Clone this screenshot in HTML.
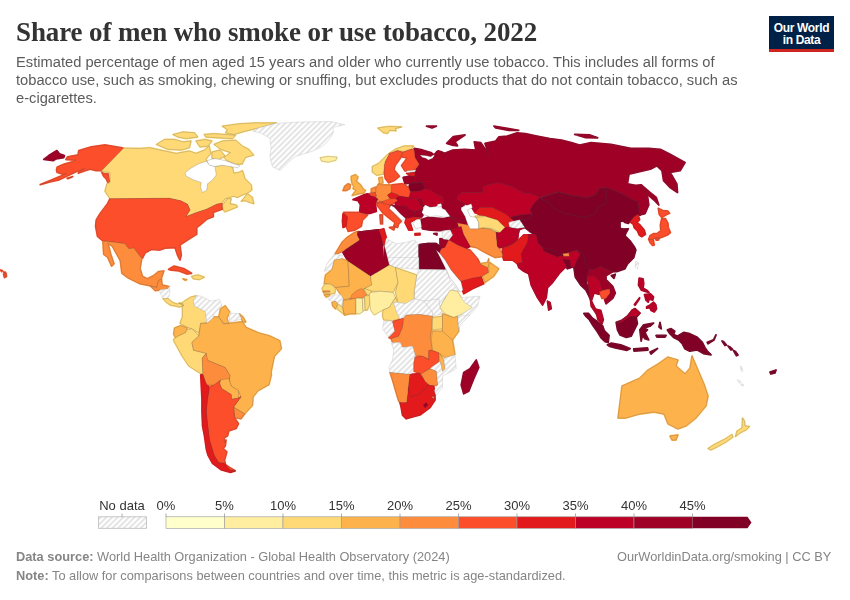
<!DOCTYPE html>
<html><head><meta charset="utf-8">
<style>
html,body{margin:0;padding:0;background:#fff;}
body{width:850px;height:600px;position:relative;overflow:hidden;font-family:"Liberation Sans",sans-serif;}
.t{position:absolute;white-space:nowrap;will-change:transform;}
#title{left:16px;top:16.6px;font-family:"Liberation Serif",serif;font-weight:bold;font-size:27px;color:#333;letter-spacing:-0.12px;transform:scaleY(1.05);transform-origin:0 24px;}
.sub{left:16px;font-size:14.7px;color:#5b5b5b;}
.foot{font-size:12.8px;color:#858585;}
#logo{position:absolute;left:769px;top:16px;width:65px;height:36px;background:#002147;border-bottom:3px solid #ce261e;box-sizing:border-box;}
#logo div{position:absolute;left:0;width:65px;text-align:center;color:#fff;font-weight:bold;font-size:12px;letter-spacing:-0.35px;}
svg{position:absolute;left:0;top:0;will-change:transform;}
</style></head><body>
<svg width="850" height="600" viewBox="0 0 850 600">
<defs>
<pattern id="hatch" patternUnits="userSpaceOnUse" width="4" height="4" patternTransform="rotate(45)">
<rect width="4" height="4" fill="#fff"/><rect x="0" y="0" width="1.8" height="4" fill="#e2e2e2"/>
</pattern>
</defs>
<g id="map">
<g><polygon points="414.2,148.3 422.5,150 430.8,152.5 434.2,155 436.7,151.7 438.3,150.8 441.3,151.8 444.6,153.4 452.8,150.1 464.4,149.3 475.9,150.1 474.3,141.9 480.8,142.7 487.4,152.6 489.1,155.1 485,143.5 495.7,141.1 499,136.9 507.2,136.1 517.1,132.8 525.3,133.7 536.9,136.1 550,138.6 561.5,140.2 571.4,142.7 579.6,145.2 591.1,142.7 610.9,144.4 630.7,148.5 648.8,148.5 660.3,149.3 670.2,154.2 685,162.5 680.1,170.7 670.2,172.4 676.8,183.9 677.5,192.5 670,187.5 663.6,180.6 662,170.7 657,165.8 650.4,169.1 629,174 627.4,183.9 635.6,185.5 641.25,185 647.5,196.25 648.75,205 645,213.75 640,215 638.75,208.75 637.5,201.25 632.5,200 621.25,193.75 610,188.75 606,187.5 600,187.5 595,195 587.5,197.5 570,195 558.75,191.25 542.5,196.25 540,197.5 531.25,193.75 523.75,193.1 511.25,186.25 497.5,182.5 483.75,186.25 482.5,192.5 461.25,192.5 457.5,196.25 457.5,200 460,201.25 465,203.75 461.25,207.5 461.25,210 465,216.25 467.5,221.25 461.25,220 450,216.25 446.25,212.5 441.25,205 443.75,200 442.5,196.25 430,192.5 425,188.75 422.5,182.5 415,177.5 415,171.25 416,170 419.2,164.2 415,157.5 414.2,150.8" fill="#9f0026" stroke="#9f0026" stroke-width="1.8" stroke-linejoin="round"/>
<polygon points="123.75,148.1 105,145 91.25,146.9 78.75,150.6 78.1,155 67.5,156.9 66,159.5 75.5,160 71.3,162.1 64.2,164.2 57.2,167.1 56.5,169.9 57.2,172.4 62.8,174.1 66.3,173.4 60.7,176.2 50.1,180.5 40.2,184.7 50.1,181.9 59.3,179.8 69.9,174.8 75.5,172 84.7,168.5 79.8,171.3 78.3,173.1 85.4,170.6 90.3,169.2 96,170.6 101.25,170.6 103.75,173.75 108.1,173.75 110,181.25 108.1,183.1 106.25,178.75 103.75,176.25 101.25,171.25" fill="#fc4e2a" stroke="#fc4e2a" stroke-width="1.8" stroke-linejoin="round"/>
<polygon points="67.1,178.3 72.7,176.6 67.8,178.7" fill="#fc4e2a" stroke="#fc4e2a" stroke-width="1.8" stroke-linejoin="round"/>
<polygon points="43.75,159.4 48.75,155.6 56.9,150.6 59.4,153.75 64.4,155.6 63.75,157.5 56.25,158.75 53.1,160.6" fill="#9f0026" stroke="#9f0026" stroke-width="1.8" stroke-linejoin="round"/>
<polygon points="123.75,148.1 140,148.5 149.9,147.7 164.7,151 176.2,153.4 189.4,151 196,153.4 204.3,150.1 209.2,146 210.8,153.4 205.9,159.2 207.5,164.1 214.1,162.5 216.25,166.25 220,165.6 227.5,165 232.5,167.5 233.75,173.1 238.75,172.5 242.5,170.6 245,178.75 251.25,185 251.9,190 247.5,193.1 242.5,195 237.5,197.5 233.75,196.25 225,198.75 221.7,203.3 216.7,204.2 206.7,209.2 196.7,212.5 185.8,216.7 190,210 187.5,204.2 180.8,200.8 169.2,198.3 110,198.75 105,191.25 106.9,183.75 110,182.5 110,172.5 101.25,171.25" fill="#fed976" stroke="#fed976" stroke-width="1.8" stroke-linejoin="round"/>
<polygon points="185,173.1 190,168.75 198.75,163.75 206.25,161.25 210,165 215,166.25 216.25,175 212.5,180 207.5,183.75 206.9,190 202.5,192.5 200.6,187.5 201.25,182.5 193.75,180 186.25,176.25" fill="#fff"/>
<polygon points="222.5,205 227.5,198.75 231.25,198.75 230,203.75 236.25,205 237.5,206.9 225,211.9 223.1,210" fill="#fed976" stroke="#fed976" stroke-width="1.8" stroke-linejoin="round"/>
<polygon points="241.25,201.25 247.5,193.75 252.5,197.5 253.75,203.75 250,202.5 245,200.6" fill="#fed976" stroke="#fed976" stroke-width="1.8" stroke-linejoin="round"/>
<polygon points="214.1,144.4 222.4,141 235.6,140.2 242.1,146 248.7,149.3 253.7,155.1 245.4,157.5 242.1,164.1 235.6,164.1 227.3,160.8 224,157.5 230.6,152.6 220.7,149.3" fill="#fed976" stroke="#fed976" stroke-width="1.8" stroke-linejoin="round"/>
<polygon points="156.5,144.4 164.7,139.4 174.6,139.4 182.8,141.9 191,141 189.4,147.7 181.2,150.1 168,149.3 158.1,145.2" fill="#fed976" stroke="#fed976" stroke-width="1.8" stroke-linejoin="round"/>
<polygon points="222.4,126.2 238.8,123.8 255.3,122.9 276.7,122.9 258.6,127.9 245.4,131.2 233.9,134.5 225.7,132.8 227.3,129.5" fill="#fed976" stroke="#fed976" stroke-width="1.8" stroke-linejoin="round"/>
<polygon points="173,134.5 182.8,132 194.4,132.8 197.7,137 186.1,138.6 177.9,137" fill="#fed976" stroke="#fed976" stroke-width="1.8" stroke-linejoin="round"/>
<polygon points="204.3,134.5 214.1,133.7 235.6,135.3 232.3,138.6 217.4,137.8 205.9,137" fill="#fed976" stroke="#fed976" stroke-width="1.8" stroke-linejoin="round"/>
<polygon points="196,141 205,139.5 212,141 208,146 200,147" fill="#fed976" stroke="#fed976" stroke-width="1.8" stroke-linejoin="round"/>
<polygon points="212,152 220,150 225,156 218,160 212,158" fill="#fed976" stroke="#fed976" stroke-width="1.8" stroke-linejoin="round"/>
<polygon points="110,198.75 169.2,198.3 180.8,200.8 187.5,204.2 190,210 185.8,216.7 196.7,212.5 206.7,209.2 216.7,204.2 221.7,203.3 222.1,209.2 213.3,212.5 213.3,216.7 206.7,219.2 200,225 196.7,227.5 196.7,234.2 187.5,240 180,245 181.25,255 180,260 177.5,255 175,247.5 165,248.1 160,250 151.25,249.4 145,253.1 142.5,258.1 140,256.25 133.75,248.1 128.75,248.75 125,243.75 112.5,241.9 102.5,240.6 97.5,236.25 95.6,226.25 96.25,220 100,213.75 107.5,203.75" fill="#fc4e2a" stroke="#fc4e2a" stroke-width="1.8" stroke-linejoin="round"/>
<polygon points="102.9,241.6 112.5,241.9 125,243.75 128.75,248.75 133.75,248.1 140,256.25 141.7,259 140.1,268.5 142.5,276.4 147.3,278.8 153.6,275.6 158.3,271.7 163.9,270.9 161.5,278 158.3,281.2 156.8,287.5 150.4,285.9 139.3,283.5 128.3,278 121.9,273.3 120.3,260.6 112.4,246.3 108,243.5 111,255 114,263.8 111.6,266.1 107.7,257.4 103.7,254.3" fill="#fd8d3c" stroke="#fd8d3c" stroke-width="1.8" stroke-linejoin="round"/>
<polygon points="150.4,285.9 156.8,287.5 158.3,281.2 161.5,279 162,285 169.4,286.7 167.8,289 160,290 155.2,290.7" fill="#fd8d3c" stroke="#fd8d3c" stroke-width="1.8" stroke-linejoin="round"/>
<polygon points="160,290 167.8,289 169.4,286.7 170,293 168,298.6 163,298.6 159.9,292.3" fill="#fff" stroke="#fff" stroke-width="1.1"/>
<polygon points="163,298.6 168,298.6 172,302 177,304 182,303 184,306 180,307 175,306 170,305 166,302" fill="#fed976" stroke="#fed976" stroke-width="1.8" stroke-linejoin="round"/>
<polygon points="168.6,269.3 174.2,266.1 183.7,268.5 191.6,273.3 186.8,274 178.9,270.9 171,270.1" fill="#fc4e2a" stroke="#fc4e2a" stroke-width="1.8" stroke-linejoin="round"/>
<polygon points="191.6,276.4 197.9,274.8 204.3,277.2 199.5,279.6 193.2,278.8" fill="#fed976" stroke="#fed976" stroke-width="1.8" stroke-linejoin="round"/>
<polygon points="182.9,278.8 186.8,279.6 185.3,280.4" fill="#feb24c" stroke="#feb24c" stroke-width="1.8" stroke-linejoin="round"/>
<polygon points="196.7,295.5 193.5,300.3 194.3,305.8 205.4,311.4 207,322.5 200.6,323.3 199,332.8 191.9,328.8 187.2,327.2 180,323.3 182.4,316.9 182.4,305.8 179.3,302.7 184,306 182,303 186,300 191,297" fill="#fed976" stroke="#fed976" stroke-width="1.8" stroke-linejoin="round"/>
<polygon points="196.7,295.5 201.4,296.3 210.9,301.1 219.6,299.5 222,305.8 214.1,313.8 212.5,320.9 207,323.3 205.4,311.4 194.3,305.8 193.5,300.3" fill="#fff" stroke="#fff" stroke-width="1.1"/>
<polygon points="174.5,328 180.8,325.6 187.2,328 185.6,332.8 178.5,335.9 176.1,339.1 173.7,334.3" fill="#feb24c" stroke="#feb24c" stroke-width="1.8" stroke-linejoin="round"/>
<polygon points="173.7,339.1 178.5,335.9 185.6,332.8 187.2,329.6 191.9,328.8 199,335.9 191.9,342.3 193.5,350.2 206.2,353.3 202.2,358.1 203,373.9 199.8,373.1 188.8,366 182.4,356.5 173.7,340.7" fill="#fed976" stroke="#fed976" stroke-width="1.8" stroke-linejoin="round"/>
<polygon points="200.6,323.3 207,323.3 214.1,316.9 218.8,316.9 223.6,324 242.6,321.7 245.8,327.2 258.4,332.8 269.5,335.9 279.8,340.7 281.4,348.6 274.3,356.5 271.1,372.3 271.4,375 268.9,384.7 258,390.8 253.1,396.9 252.5,405.4 244.6,413.9 233.7,407.2 241,396.9 238.5,390.8 231.2,386 228.8,378.6 229.1,381.8 229.9,375.5 225.2,367.6 206.2,359.7 206.2,353.3 193.5,350.2 191.9,342.3 199,335.9" fill="#feb24c" stroke="#feb24c" stroke-width="1.8" stroke-linejoin="round"/>
<polygon points="220.4,309 225.2,305.8 229.9,312.2 226.8,318.5 229.1,323.3 223.6,323.3 218.8,316.9" fill="#feb24c" stroke="#feb24c" stroke-width="1.8" stroke-linejoin="round"/>
<polygon points="229.9,313 239.4,313.8 242.6,318.5 234.7,320.9 229.1,321.7" fill="#fff" stroke="#fff" stroke-width="1.1"/>
<polygon points="239.4,313.8 243,317 245.8,322 242.6,321.7" fill="#feb24c" stroke="#feb24c" stroke-width="1.8" stroke-linejoin="round"/>
<polygon points="202.2,358.1 206.2,353.3 207.8,360.5 225.2,367.6 229.9,375.5 229.1,381.8 220.4,380.3 214.1,385 206.2,385 203,375.5" fill="#fd8d3c" stroke="#fd8d3c" stroke-width="1.8" stroke-linejoin="round"/>
<polygon points="220.3,379.9 228.8,378.6 231.2,386 238.5,390.8 238.5,398.1 231.2,399.3 231.2,394.5 221.5,388.4 219.7,383.5" fill="#feb24c" stroke="#feb24c" stroke-width="1.8" stroke-linejoin="round"/>
<polygon points="233.7,407.2 244.6,413.9 241,418.8 234.9,417.6" fill="#fd8d3c" stroke="#fd8d3c" stroke-width="1.8" stroke-linejoin="round"/>
<polygon points="209.3,387.2 214.1,385 220.4,380.3 219.7,383.5 221.5,388.4 231.2,394.5 231.8,399.3 238.5,398.1 241,396.9 233.7,406.6 234.3,417.6 238.5,423.7 236.1,428.5 228.8,431 227.6,435.8 223.9,438.3 225.1,443.1 226,440 225.3,446 223,448.3 226.8,452 224.5,460.3 225.3,463.3 218.5,462.5 214,455 209.5,440 207.5,423.7 206.3,411.5 207.5,399.3" fill="#fc4e2a" stroke="#fc4e2a" stroke-width="1.8" stroke-linejoin="round"/>
<polygon points="225.3,464.8 235,470.8 229,470" fill="#fc4e2a" stroke="#fc4e2a" stroke-width="1.8" stroke-linejoin="round"/>
<polygon points="200.8,375 203.2,375 205.7,382.3 209.3,388.4 207.5,399.3 206.3,411.5 207.5,423.7 209.5,440 214,455 218.5,462.5 224.5,464 230.5,470 235,470.8 230.5,472.3 221.5,470 212.5,463.3 208,455 206.5,449.8 204.5,435.8 202.6,426.1 202,411.5 202,399.3 201.4,387.2" fill="#e31a1c" stroke="#e31a1c" stroke-width="1.8" stroke-linejoin="round"/>
<polygon points="252.9,131.2 259.4,127.9 276.2,123.4 298.2,122.1 330.6,121.5 344.8,124.7 333.2,127.3 333.2,133.1 329.3,139.6 322.8,146.1 312.5,151.2 295.6,156.4 289.2,161.6 280.1,170.6 272.4,166.8 269.8,156.4 271.1,148.6 269.8,138.3 260.7,133.1" fill="#fff" stroke="#fff" stroke-width="1.1"/>
<polygon points="320.2,157.7 328,156.4 337.1,157.1 335.8,160.3 328,162.2 321.5,161" fill="#ffeda0" stroke="#ffeda0" stroke-width="1.8" stroke-linejoin="round"/>
<polygon points="377.8,128.1 384.3,127 389.7,126.5 401.6,127 395.1,128.7 396.2,130.8 389.7,130.3 387.5,133.5 383.2,132.5" fill="#fed976" stroke="#fed976" stroke-width="1.8" stroke-linejoin="round"/>
<polygon points="372.3,166.6 378.8,163.3 387.5,154.7 395.1,149.3 403.8,146 413.5,146 411.3,149.3 403.8,151.4 397.3,150.3 389.7,153.6 385.3,161.2 384.3,168.8 383.2,174.2 376.7,175.3 372.3,172" fill="#fed976" stroke="#fed976" stroke-width="1.8" stroke-linejoin="round"/>
<polygon points="384.3,164.4 389.7,153.6 397.3,150.9 402.7,152.5 400.5,157.9 395.1,165.5 394,169.8 399.4,176.3 394,180.7 388.6,182.8 385.3,178.5 384.3,172" fill="#fc4e2a" stroke="#fc4e2a" stroke-width="1.8" stroke-linejoin="round"/>
<polygon points="402.7,152.5 410.3,149.3 413.5,150 414.2,150.8 415,157.5 419.2,164.2 415,168.3 413.5,170.9 404.8,170.9 401.6,165.5 404.8,161.2 407,157.9 401.6,156.8" fill="#fc4e2a" stroke="#fc4e2a" stroke-width="1.8" stroke-linejoin="round"/>
<polygon points="406.7,173.3 414.2,172.5 415,176.7 410,175.8" fill="#e31a1c" stroke="#e31a1c" stroke-width="1.8" stroke-linejoin="round"/>
<polygon points="403.1,177.5 410,176.25 415,176.25 422.5,182.5 412.5,182.5 405,183.75" fill="#9f0026" stroke="#9f0026" stroke-width="1.8" stroke-linejoin="round"/>
<polygon points="410,183.75 422.5,182.5 425,188.75 420,191.25 410,191.25 408.75,187.5" fill="#800026" stroke="#800026" stroke-width="1.8" stroke-linejoin="round"/>
<polygon points="410,192.5 420,191.25 425,188.75 430,190 442.5,197.5 443.75,203.75 435,207.5 427.5,206.25 422.5,203.75 420,200 410,197.5 408.75,197.5" fill="#bd0026" stroke="#bd0026" stroke-width="1.8" stroke-linejoin="round"/>
<polygon points="391.25,185 402.5,183.75 408.75,187.5 410,192.5 408.75,197.5 400,196.25 391.25,192.5" fill="#fc4e2a" stroke="#fc4e2a" stroke-width="1.8" stroke-linejoin="round"/>
<polygon points="378.75,183.75 382.5,185 391.25,185 391.25,192.5 387.5,195 390,198.75 387.5,201.9 380,201.25 376.25,197.5 375,190" fill="#fd8d3c" stroke="#fd8d3c" stroke-width="1.8" stroke-linejoin="round"/>
<polygon points="378.8,178 382.2,177.2 383,183 379.7,183.8" fill="#feb24c" stroke="#feb24c" stroke-width="1.8" stroke-linejoin="round"/>
<polygon points="371.3,188.8 375.5,187.2 376,192.2 371.3,193" fill="#fd8d3c" stroke="#fd8d3c" stroke-width="1.8" stroke-linejoin="round"/>
<polygon points="368.8,193.8 373,193 375,192 376.5,196 371.3,196.3" fill="#fc4e2a" stroke="#fc4e2a" stroke-width="1.8" stroke-linejoin="round"/>
<polygon points="351.3,176.3 355.5,174.7 358,177.2 356.3,181.3 360.5,184.7 363,188.8 365.5,190.5 363.8,193 358.8,193.8 352.2,195.5 353.8,193 356.3,190.5 353,188.8 353.8,186.3 352.2,183.8 351.3,179.7" fill="#feb24c" stroke="#feb24c" stroke-width="1.8" stroke-linejoin="round"/>
<polygon points="343,190.5 344.7,186.3 348,183.8 350.5,184.7 349.7,188.8 346.3,190.5" fill="#fd8d3c" stroke="#fd8d3c" stroke-width="1.8" stroke-linejoin="round"/>
<polygon points="353,199.7 358.8,197.2 364.7,194.7 367.2,193.8 371.3,196.3 377.2,198.8 375.5,204.7 376.3,211.3 371.3,213 366.3,213.8 359.7,212.2 360.5,204.7 358,200.5" fill="#bd0026" stroke="#bd0026" stroke-width="1.8" stroke-linejoin="round"/>
<polygon points="343.75,212.5 358.75,212.5 367.5,215 362.5,220 361.25,226.25 355,230 348.1,231.25 346.25,226.25 347.5,216.9" fill="#fc4e2a" stroke="#fc4e2a" stroke-width="1.8" stroke-linejoin="round"/>
<polygon points="343.1,213.75 347.5,216.9 346.25,226.25 343.1,227.5 342.5,221.25" fill="#e31a1c" stroke="#e31a1c" stroke-width="1.8" stroke-linejoin="round"/>
<polygon points="387.5,195 391.25,192.5 398.75,195 396.25,198.75 390,198.75" fill="#e31a1c" stroke="#e31a1c" stroke-width="1.8" stroke-linejoin="round"/>
<polygon points="382.5,201.25 390,198.75 396.25,198.75 398,201 395,202.5 390,205 383,203.5" fill="#fc4e2a" stroke="#fc4e2a" stroke-width="1.8" stroke-linejoin="round"/>
<polygon points="376.25,202.5 382.5,201.9 383,203.5 381.25,205 377.5,204" fill="#fc4e2a" stroke="#fc4e2a" stroke-width="1.8" stroke-linejoin="round"/>
<polygon points="396.25,198.75 400,196.25 408.75,197.5 410,197.5 407.5,201.25 407.5,206.25 396.25,206.25 395,202.5 398,201" fill="#bd0026" stroke="#bd0026" stroke-width="1.8" stroke-linejoin="round"/>
<polygon points="407.5,201.25 410,197.5 420,200 422.5,208.75 415,211.9 407.5,208.75" fill="#bd0026" stroke="#bd0026" stroke-width="1.8" stroke-linejoin="round"/>
<polygon points="390,205 396.25,206.25 407.5,206.25 407.5,208.75 415,211.9 413.75,216.9 410,218.75 402.5,217.5 393.75,211.25" fill="#9f0026" stroke="#9f0026" stroke-width="1.8" stroke-linejoin="round"/>
<polygon points="415,211.9 422.5,208.75 422.5,210 423,215 421.25,217.5 413.75,216.9" fill="#9f0026" stroke="#9f0026" stroke-width="1.8" stroke-linejoin="round"/>
<polygon points="406.25,218.75 413.75,216.9 421.25,217.5 415,219.4 410,222.5 412.5,230 408.75,230 405,222.5" fill="#e31a1c" stroke="#e31a1c" stroke-width="1.8" stroke-linejoin="round"/>
<polygon points="415,233.75 420,233.5 420,234.8 415,235" fill="#e31a1c" stroke="#e31a1c" stroke-width="1.8" stroke-linejoin="round"/>
<polygon points="376.25,203.75 381.25,202.5 383,203.5 390,205 388.75,208.75 395,215 401.25,221.25 398.75,223.75 397.5,227.5 393.75,226.25 395,222.5 390,218.75 382.5,212.5 378.75,207.5" fill="#fc4e2a" stroke="#fc4e2a" stroke-width="1.8" stroke-linejoin="round"/>
<polygon points="389.4,227.5 395,226.9 393.75,230" fill="#fc4e2a" stroke="#fc4e2a" stroke-width="1.8" stroke-linejoin="round"/>
<polygon points="380,215 382.5,215 382.5,223.75 380.6,223.75" fill="#fc4e2a" stroke="#fc4e2a" stroke-width="1.8" stroke-linejoin="round"/>
<polygon points="358.75,231.25 357.5,235 360,240 345,250 340,252.5 334.5,255 342,242.5 347,237.5 354.5,232.5" fill="#fd8d3c" stroke="#fd8d3c" stroke-width="1.8" stroke-linejoin="round"/>
<polygon points="357.5,232.5 378.75,230 381.25,237.5 383.1,246.25 383.75,257.5 390,265 380,275 370,270 345,250 360,240 357.5,235" fill="#9f0026" stroke="#9f0026" stroke-width="1.8" stroke-linejoin="round"/>
<polygon points="378.75,230 383.75,228.75 386.25,237.5 385,245 383.1,246.25 381.25,237.5" fill="#e31a1c" stroke="#e31a1c" stroke-width="1.8" stroke-linejoin="round"/>
<polygon points="386.25,238.75 396.25,243.75 405,242.5 415,240 418.75,245 418.75,265 383.75,265 383.75,257.5 383.1,246.25 385,245" fill="#fff" stroke="#fff" stroke-width="1.1"/>
<polygon points="418.75,245 427.5,243.75 436.25,243.75 440,248.75 438.75,257.5 441.25,265 418.75,265" fill="#800026" stroke="#800026" stroke-width="1.8" stroke-linejoin="round"/>
<polygon points="450,216.25 461.25,220 467.5,221.25 468.75,225 461.25,226.25 457.5,222.5" fill="#9f0026" stroke="#9f0026" stroke-width="1.8" stroke-linejoin="round"/>
<polygon points="420,220 427.5,217.5 442.5,218.75 450,216.9 457.5,222.5 461.25,226.25 450,230 438.75,230.6 430,230 422.5,228.75" fill="#9f0026" stroke="#9f0026" stroke-width="1.8" stroke-linejoin="round"/>
<polygon points="457.5,223.1 468.75,225 478.75,227.5 490,228.75 496.25,232.5 497.5,246.25 502.5,253.75 503.75,256.25 495,257.5 485,252.5 476.25,247.5 470,246.25 463.75,235 458.75,227.5" fill="#fd8d3c" stroke="#fd8d3c" stroke-width="1.8" stroke-linejoin="round"/>
<polygon points="475,216.25 485,215 492.5,222.5 506.25,226.25 500,233.75 490,228.75 478.75,227.5 477.5,222.5" fill="#fed976" stroke="#fed976" stroke-width="1.8" stroke-linejoin="round"/>
<polygon points="480,208.1 488.75,208.75 500,213.75 507.5,217.5 515,220 510,223.75 506.25,226.25 492.5,222.5 485,215" fill="#e31a1c" stroke="#e31a1c" stroke-width="1.8" stroke-linejoin="round"/>
<polygon points="500,233.75 506.25,226.25 515,228.75 520,227.5 517.5,235 515,242.5 507.5,246.25 500,247.5 497.5,246.25 496.25,232.5" fill="#bd0026" stroke="#bd0026" stroke-width="1.8" stroke-linejoin="round"/>
<polygon points="450,230 461.25,226.25 463.75,235 470,246.25 466.25,248.75 457.5,245 448.75,240 452.5,235" fill="#bd0026" stroke="#bd0026" stroke-width="1.8" stroke-linejoin="round"/>
<polygon points="442.5,231.25 450,230 452.5,235 448.75,240 443.75,240 441.9,236.25" fill="#fff" stroke="#fff" stroke-width="1.1"/>
<polygon points="440,238.75 448.75,240 445,247.5 441.25,248.75 440,243.75" fill="#9f0026" stroke="#9f0026" stroke-width="1.8" stroke-linejoin="round"/>
<polygon points="441.25,248.75 445,247.5 448.75,240 457.5,245 466.25,248.75 470,250 477.5,258.75 480,263.75 487.5,267.5 488.75,272.5 482.5,276.25 472.5,278.75 461.25,281.5 456,276 451,270 445,260 439.5,253 440,249.5" fill="#fc4e2a" stroke="#fc4e2a" stroke-width="1.8" stroke-linejoin="round"/>
<polygon points="461.25,281.25 472.5,278.1 481.25,276.9 483.75,283.75 472.5,288.75 463.75,293.75 461.9,288.75" fill="#e31a1c" stroke="#e31a1c" stroke-width="1.8" stroke-linejoin="round"/>
<polygon points="482.5,276.25 488.75,272.5 488.75,265 490,262.5 495,266.25 498.75,268.75 493.75,276.25 485,282.5" fill="#feb24c" stroke="#feb24c" stroke-width="1.8" stroke-linejoin="round"/>
<polygon points="480,263.75 487.5,262.5 488.75,258.75 488.75,265 487.5,267.5" fill="#feb24c" stroke="#feb24c" stroke-width="1.8" stroke-linejoin="round"/>
<polygon points="433.75,233.75 437,233.5 436.9,235" fill="#9f0026" stroke="#9f0026" stroke-width="1.8" stroke-linejoin="round"/>
<polygon points="418.75,245 427.5,243.75 436.25,243.75 440,246.25 441.25,248.75 438.75,253.75 436.25,250 445,268.75 445,269.4 418.75,269.4" fill="#800026" stroke="#800026" stroke-width="1.8" stroke-linejoin="round"/>
<polygon points="383.75,257.5 418.75,257.5 418.75,269.4 395.5,267.5 389.25,265" fill="#fff" stroke="#fff" stroke-width="1.1"/>
<polygon points="418.75,269.4 446.25,270 450,280 458.75,291.25 452.5,290 446.25,296.25 441.25,305 440,307.5 438.75,298.75 424,301.25 414.25,298.75 414.25,291.25 416.75,275 418.75,269.4" fill="#fff" stroke="#fff" stroke-width="1.1"/>
<polygon points="334.25,254.4 342.4,255 341.75,258.75 334.25,260 331.75,270 324.25,271.25 326.75,263.75" fill="#fff" stroke="#fff" stroke-width="1.1"/>
<polygon points="357.5,232.5 378.75,230 381.25,237.5 383.1,246.25 383.75,257.5 384.25,245 389.25,265 370.5,276.25 348,261.25 343,252.5 353,246.25 360,240 357.5,235" fill="#9f0026" stroke="#9f0026" stroke-width="1.8" stroke-linejoin="round"/>
<polygon points="331.75,270 334.25,260 341.75,258.75 348,261.25 349.25,286.25 335.5,287.5 333,285 324.25,283.75 325.5,275" fill="#feb24c" stroke="#feb24c" stroke-width="1.8" stroke-linejoin="round"/>
<polygon points="348,261.25 370.5,276.25 371.75,285 364.25,288.75 355.5,292.5 351.75,297.5 344.25,300 341.75,296.25 336.75,288.75 335.5,287.5 349.25,286.25" fill="#feb24c" stroke="#feb24c" stroke-width="1.8" stroke-linejoin="round"/>
<polygon points="370.5,276.25 389.25,265 395.5,267.5 398,282.5 393,292.5 380.5,291.25 371.75,291.25 364.25,288.75 371.75,285" fill="#fed976" stroke="#fed976" stroke-width="1.8" stroke-linejoin="round"/>
<polygon points="395.5,267.5 416.75,275 414.25,291.25 414.25,298.75 405.5,303.75 398,302.5 395.5,292.5 398,282.5" fill="#fed976" stroke="#fed976" stroke-width="1.8" stroke-linejoin="round"/>
<polygon points="322.1,288.4 324.9,284.1 330.6,284.1 334.1,287.6 335.5,288.75 334.8,293.3 329.9,294 324.2,293.3 322.8,290.5" fill="#fed976" stroke="#fed976" stroke-width="1.8" stroke-linejoin="round"/>
<polygon points="323.5,290.8 329.9,290.8 329.9,292.2 323.5,292.2" fill="#fd8d3c" stroke="#fd8d3c" stroke-width="1.8" stroke-linejoin="round"/>
<polygon points="324.2,294.7 329.9,294.4 329.2,296.8 326.4,297.2" fill="#feb24c" stroke="#feb24c" stroke-width="1.8" stroke-linejoin="round"/>
<polygon points="327.8,297.5 332.7,295.4 335.5,294.7 341.2,295.1 342.6,298.2 342.6,306.7 339.1,304.6 336.2,301.8 332,301.1 329.2,300.3" fill="#fff" stroke="#fff" stroke-width="1.1"/>
<polygon points="332,302.5 335.5,301.1 337.6,303.9 335.5,308.8 332.7,306" fill="#feb24c" stroke="#feb24c" stroke-width="1.8" stroke-linejoin="round"/>
<polygon points="336.9,306 339.1,304.6 342.6,307.4 344,314.5 340.5,311.6 336.9,308.8" fill="#fed976" stroke="#fed976" stroke-width="1.8" stroke-linejoin="round"/>
<polygon points="343.3,300.3 350.3,299.6 355.3,298.2 356,305.3 356,313.8 349.6,313.8 344.7,315.2 342.6,307.4" fill="#feb24c" stroke="#feb24c" stroke-width="1.8" stroke-linejoin="round"/>
<polygon points="350.3,298.9 351.8,294.7 356.7,290.5 361.6,288.4 365.2,291.9 367.3,294.7 362.3,298.2 356.7,298.2" fill="#fd8d3c" stroke="#fd8d3c" stroke-width="1.8" stroke-linejoin="round"/>
<polygon points="356,298.2 362.3,298.2 363,311.6 359.5,313.8 356,313.8" fill="#ffeda0" stroke="#ffeda0" stroke-width="1.8" stroke-linejoin="round"/>
<polygon points="362.3,298.2 364.5,298.2 365.2,310.2 363,310.9" fill="#ffeda0" stroke="#ffeda0" stroke-width="1.8" stroke-linejoin="round"/>
<polygon points="364.5,296.1 369.4,295.4 370.1,303.2 367.3,310.2 365.2,310.2" fill="#fed976" stroke="#fed976" stroke-width="1.8" stroke-linejoin="round"/>
<polygon points="364.5,288.5 371.75,291.25 370.5,293 369.4,295.4 367.3,294.7 365.2,291.9" fill="#fed976" stroke="#fed976" stroke-width="1.8" stroke-linejoin="round"/>
<polygon points="370.5,292.5 380.5,291.25 393,292.5 395.5,297.5 389.25,307.5 383,310 374.25,315 370.5,310 369.25,295" fill="#ffeda0" stroke="#ffeda0" stroke-width="1.8" stroke-linejoin="round"/>
<polygon points="383,310 389.25,307.5 395.5,297.5 398,303.75 393.75,302.5 396.25,311.25 400,318.75 392.5,320.6 383.75,320 382.5,316" fill="#fed976" stroke="#fed976" stroke-width="1.8" stroke-linejoin="round"/>
<polygon points="398,302.5 405.5,303.75 414.25,298.75 424,301.25 432.5,312 432.5,316.25 420,314.4 406.25,315 403.75,318.1 400,318.75 396.25,311.25 393.75,302.5" fill="#fff" stroke="#fff" stroke-width="1.1"/>
<polygon points="424,301.25 438.75,298.75 440,307.5 442.5,313.75 432.5,316.25 432.5,312" fill="#fff" stroke="#fff" stroke-width="1.1"/>
<polygon points="441.25,305 446.25,296.25 450,290 457.5,291.25 461.25,297.5 465,302.5 472.5,307.5 462.5,313.75 453.75,317.5 445,313.75 440,307.5" fill="#ffeda0" stroke="#ffeda0" stroke-width="1.8" stroke-linejoin="round"/>
<polygon points="461.25,297.5 480,296.25 477.5,306.25 470,315 460,325 457.5,321.25 462.5,313.75 472.5,307.5 465,302.5" fill="#fff" stroke="#fff" stroke-width="1.1"/>
<polygon points="457.5,316.25 470,315 460,325 458.75,331.25 457.5,325" fill="#fff" stroke="#fff" stroke-width="1.1"/>
<polygon points="383.75,321.25 392.5,321.25 395,331.25 388.75,337.5 382.5,328.75" fill="#fff" stroke="#fff" stroke-width="1.1"/>
<polygon points="392.5,321.9 403.75,318.1 402.5,327.5 398.75,336.25 391.25,338.75 388.75,337.5 395,331.25" fill="#fc4e2a" stroke="#fc4e2a" stroke-width="1.8" stroke-linejoin="round"/>
<polygon points="403.75,318.1 406.25,315 420,314.4 432.5,316.25 431.25,331.25 430,337.5 432.5,348.75 428.75,351.25 428.75,358.75 422.5,356.25 415,355 412.5,346.25 402.5,347.5 400,342.5 392.5,342.5 391.25,338.75 398.75,336.25 402.5,327.5" fill="#fd8d3c" stroke="#fd8d3c" stroke-width="1.8" stroke-linejoin="round"/>
<polygon points="432.5,317.5 442.5,316.25 442.5,328.75 432.5,330" fill="#fed976" stroke="#fed976" stroke-width="1.8" stroke-linejoin="round"/>
<polygon points="442.5,313.75 453.75,317.5 457.5,316.25 458.75,331.25 452.5,340 442.5,332.5 442.5,328.75" fill="#feb24c" stroke="#feb24c" stroke-width="1.8" stroke-linejoin="round"/>
<polygon points="432.5,331.25 442.5,331.25 452.5,340 455,355 445,357.5 440,353.75 432.5,350 431.25,338.75" fill="#feb24c" stroke="#feb24c" stroke-width="1.8" stroke-linejoin="round"/>
<polygon points="391.25,343.1 400,342.5 402.5,347.5 412.5,346.25 415,355 413.75,365 413.75,371.25 410,374.4 390,372.5 388.75,367.5 392.5,360 393.75,350" fill="#fff" stroke="#fff" stroke-width="1.1"/>
<polygon points="415,357.5 422.5,356.25 428.75,360 428.75,350 438.75,352.5 438.75,362.5 432.5,366.25 430,368.75 421.25,373.75 413.75,371.25 413.75,362.5" fill="#fc4e2a" stroke="#fc4e2a" stroke-width="1.8" stroke-linejoin="round"/>
<polygon points="443.75,358.75 455,355 456.25,368.75 442.5,376.25 442.5,387.5 436.25,395 433.75,391.25 437.5,385 436.25,371.25 430,368.75 438.75,362.5" fill="#fff" stroke="#fff" stroke-width="1.1"/>
<polygon points="440,353.75 443.75,360 445,368.75 442.5,371.25 441.25,365 439.4,360" fill="#feb24c" stroke="#feb24c" stroke-width="1.8" stroke-linejoin="round"/>
<polygon points="390,372.5 410,374.4 408.75,387.5 406.9,402.5 402.5,403.75 398.75,401.25 395,388.75 392.5,380" fill="#fd8d3c" stroke="#fd8d3c" stroke-width="1.8" stroke-linejoin="round"/>
<polygon points="410,374.4 420,373.75 428.75,385 420,393.75 410,397.5 408.1,390" fill="#e31a1c" stroke="#e31a1c" stroke-width="1.8" stroke-linejoin="round"/>
<polygon points="421.25,373.75 430,368.75 436.25,371.25 437.5,385 430,385.6 425,381.25" fill="#fd8d3c" stroke="#fd8d3c" stroke-width="1.8" stroke-linejoin="round"/>
<polygon points="400,402.5 406.9,402.5 408.75,387.5 410,397.5 420,393.75 428.75,385 433.75,386.25 435,395 435,400 430,407.5 420,415 406.25,418.75 402.5,415 401.25,407.5" fill="#e31a1c" stroke="#e31a1c" stroke-width="1.8" stroke-linejoin="round"/>
<polygon points="423.1,405 426.25,402.5 428.1,405 425,408.1" fill="#9f0026" stroke="#9f0026" stroke-width="1.8" stroke-linejoin="round"/>
<polygon points="431.9,396.25 434.4,396.9 433.1,398.75" fill="#feb24c" stroke="#feb24c" stroke-width="1.8" stroke-linejoin="round"/>
<polygon points="476.25,360 478.75,367.5 473.75,378.75 468.75,391.25 463.75,393.75 461.25,385 463.75,372.5 470,368.75" fill="#9f0026" stroke="#9f0026" stroke-width="1.8" stroke-linejoin="round"/>
<polygon points="446.7,143.3 453.3,136.7 465,135 455,141.7 457.5,145.8 451.7,145" fill="#9f0026" stroke="#9f0026" stroke-width="1.8" stroke-linejoin="round"/>
<polygon points="494,126.2 508.8,128.7 518.7,130.4 508.8,130.4 495.7,127.9" fill="#9f0026" stroke="#9f0026" stroke-width="1.8" stroke-linejoin="round"/>
<polygon points="574.7,134.5 590,135 597.7,137.8 585,137.5" fill="#9f0026" stroke="#9f0026" stroke-width="1.8" stroke-linejoin="round"/>
<polygon points="426.5,126.2 436.4,126.2 432,128" fill="#9f0026" stroke="#9f0026" stroke-width="1.8" stroke-linejoin="round"/>
<polygon points="457.5,196.25 461.25,192.5 482.5,192.5 483.75,186.25 497.5,182.5 511.25,186.25 523.75,193.1 531.25,193.75 540,197.5 533.75,203.75 530,210 532.5,214 521.25,215 513.75,216.25 510,217.5 505,213.75 492.5,207.5 480,207.5 475,212.5 471.25,206.25 465,203.75 460,201.25 457.5,200" fill="#bd0026" stroke="#bd0026" stroke-width="1.8" stroke-linejoin="round"/>
<polygon points="461.25,207.5 471.25,203.75 472.5,207.5 467.5,210 470,216.25 476.25,217.5 478.75,222.5 478.75,228.75 470,228.75 467.5,223.75 465,216.25 461.25,210" fill="#fff"/>
<polygon points="480,207.5 492.5,207.5 505,213.75 510,217.5 507.5,222.5 510,227.5 505,227.5 497.5,220 485,216.25 480,215 475,212.5" fill="#e31a1c" stroke="#e31a1c" stroke-width="1.8" stroke-linejoin="round"/>
<polygon points="476.25,217.5 485,216.25 497.5,220 505,227.5 500,232.5 492.5,228.75 482.5,227.5 478.75,228.75 478.75,222.5" fill="#fed976" stroke="#fed976" stroke-width="1.8" stroke-linejoin="round"/>
<polygon points="511.25,217.5 521.25,215 532.5,213.75 530,218.75 520,220 513.75,221.25" fill="#800026" stroke="#800026" stroke-width="1.8" stroke-linejoin="round"/>
<polygon points="508.75,222.5 513.75,221.25 520,220 525,227.5 517.5,228.75 510,227.5" fill="#fff" stroke="#fff" stroke-width="1.1"/>
<polygon points="500,232.5 505,227.5 510,227.5 517.5,228.75 525,227.5 518.75,230 517.5,240 510,245 500,247.5 497.5,246.25 496.25,232.5" fill="#bd0026" stroke="#bd0026" stroke-width="1.8" stroke-linejoin="round"/>
<polygon points="502.5,248.75 511.25,245 518.75,240 523.75,235 528.75,235 527.5,242.5 521.25,253.75 522.5,262.5 517.5,263.75 512.5,260 503.75,260 502.5,255" fill="#e31a1c" stroke="#e31a1c" stroke-width="1.8" stroke-linejoin="round"/>
<polygon points="540,197.5 542.5,200 550,202.5 552.5,207.5 562.5,212.5 572.5,215 585,217.5 595,213.75 597.5,207.5 606,203.75 606,188.75 610,188.75 621.25,193.75 632.5,200 637.5,201.25 638.75,208.75 640,215 637.9,214.6 634.2,216.7 630,221.7 628.3,223.3 625,222.5 623.3,220.8 620,221.7 620,228.3 623.3,229.2 628.3,228.8 625.8,233.3 625,235.8 630,240.8 634.2,246.7 635.8,250 633.75,257.5 627.5,263.75 624.7,269 616.7,271.7 612.7,271.7 606,269 600.7,266.3 592.7,270.3 590,270.3 584.7,262.3 583.3,253 576.7,250.3 565,253.75 562.5,256.25 552.5,253.75 542.5,247.5 537.5,242.5 536.25,235 531.25,232.5 525,227.5 520,220 530,218.75 532.5,213.75 530,210 533.75,203.75" fill="#800026" stroke="#800026" stroke-width="1.8" stroke-linejoin="round"/>
<polygon points="542.5,197.5 558.75,192.5 570,195.6 587.5,198.1 595,195.6 600,188.75 606,188.75 606,203.75 597.5,207.5 595,213.75 585,217.5 572.5,215 562.5,212.5 552.5,207.5 550,202.5 542.5,200" fill="#800026" stroke="#800026" stroke-width="1.8" stroke-linejoin="round"/>
<polygon points="528.75,235 536.25,235 537.5,242.5 542.5,247.5 552.5,253.75 562.5,256.25 565,253.75 577.5,250 581.25,253.75 576.7,250.3 580.7,254.3 576.7,261 574,267.7 570,266.3 570,267.5 565,267.5 560,272.5 552.5,282.5 547.5,287.5 546.25,297.5 542.5,305 537.5,297.5 531.25,285 528.75,273.75 523.75,271.25 518.75,267.5 517.5,263.75 522.5,262.5 521.25,253.75 527.5,242.5" fill="#bd0026" stroke="#bd0026" stroke-width="1.8" stroke-linejoin="round"/>
<polygon points="542.5,247.5 552.5,250 562.5,255 557.5,256.9 543.75,251.25" fill="#800026" stroke="#800026" stroke-width="1.8" stroke-linejoin="round"/>
<polygon points="562.5,253.75 568.75,253.1 569.4,256.25 563.75,256.25" fill="#fd8d3c" stroke="#fd8d3c" stroke-width="1.8" stroke-linejoin="round"/>
<polygon points="562.5,258.75 570,260 571.25,267.5 567.5,268.75 565,263.75" fill="#800026" stroke="#800026" stroke-width="1.8" stroke-linejoin="round"/>
<polygon points="547.5,301.25 550,302.5 551.25,308.75 548.75,310" fill="#bd0026" stroke="#bd0026" stroke-width="1.8" stroke-linejoin="round"/>
<polygon points="576.7,250.3 583.3,253 584.7,262.3 590,270.3 587.3,275.7 586,283.7 588.7,286.3 590,295.7 591.3,301 589,296 586,290 580.7,285 575.3,277 574,267.7 576.7,261 580.7,254.3" fill="#800026" stroke="#800026" stroke-width="1.8" stroke-linejoin="round"/>
<polygon points="592.7,270.3 600.7,266.3 606,269 603.3,277 608.7,283.7 610,289 602,290.3 599.3,281 592.7,277" fill="#9f0026" stroke="#9f0026" stroke-width="1.8" stroke-linejoin="round"/>
<polygon points="587.3,275.7 592.7,274.3 599.3,281 602,290.3 599.3,294.3 594,293 591.3,301 595.3,309 600.7,314.3 596.7,314.3 591.3,306.3 590,295.7 588.7,286.3" fill="#bd0026" stroke="#bd0026" stroke-width="1.8" stroke-linejoin="round"/>
<polygon points="595.3,309 600.7,310.3 603.3,319.7 602,323.7 598,319.7 596.7,314.3" fill="#bd0026" stroke="#bd0026" stroke-width="1.8" stroke-linejoin="round"/>
<polygon points="606,269 612.7,271.7 606,275.7 606,279.7 612.7,286.3 615.3,293 612.7,298.3 606,303.7 604.7,299.7 610,293 610,289 608.7,283.7 603.3,277" fill="#9f0026" stroke="#9f0026" stroke-width="1.8" stroke-linejoin="round"/>
<polygon points="599.3,291.7 608.7,289 610,293 606,298.3 602,298.3" fill="#fc4e2a" stroke="#fc4e2a" stroke-width="1.8" stroke-linejoin="round"/>
<polygon points="611.3,275.7 615.3,274.3 614,278.3" fill="#800026" stroke="#800026" stroke-width="1.8" stroke-linejoin="round"/>
<polygon points="635.6,261 638.75,263 637.5,269 635,267" fill="#fff" stroke="#fff" stroke-width="1.1"/>
<polygon points="630,221.7 634.2,216.7 637.9,214.6 639.6,219.6 636.7,222.5 640,225 644.2,230 645.4,234.2 641.7,236.7 639.2,235 637.5,230.8 634.2,227.5 633.3,224.2" fill="#e31a1c" stroke="#e31a1c" stroke-width="1.8" stroke-linejoin="round"/>
<polygon points="658.3,208.3 663.3,210.8 667.5,210.8 669.6,213.3 665.8,215 661.7,217.5 659.2,214.2" fill="#fc4e2a" stroke="#fc4e2a" stroke-width="1.8" stroke-linejoin="round"/>
<polygon points="661.7,218.75 660.4,225 660.8,230.8 657.5,233.3 653.3,233.75 650,235.8 648.75,239.2 651.7,240 655.8,237.5 660,237.9 663.3,236.7 667.5,235 670.4,232.5 668.3,227.5 667.9,223.3 665.4,218.75" fill="#fc4e2a" stroke="#fc4e2a" stroke-width="1.8" stroke-linejoin="round"/>
<polygon points="648.75,239.2 653.3,240 654.2,245 652.5,245.4 650,242.5" fill="#fc4e2a" stroke="#fc4e2a" stroke-width="1.8" stroke-linejoin="round"/>
<polygon points="655.8,238.5 659.2,238.3 658.5,240 656,240" fill="#fc4e2a" stroke="#fc4e2a" stroke-width="1.8" stroke-linejoin="round"/>
<polygon points="641.25,185 650,192.5 656.25,197.5 658.75,205 654,200 645,192" fill="#9f0026" stroke="#9f0026" stroke-width="1.8" stroke-linejoin="round"/>
<polygon points="639.2,278.2 643,279 643.7,283.5 643,288 646.7,290.2 649,292.5 646,291.7 641.5,290.2 638.5,285" fill="#bd0026" stroke="#bd0026" stroke-width="1.8" stroke-linejoin="round"/>
<polygon points="644.5,294.7 650.5,294 653.5,297 652.7,300 649,299.2 648.2,302.2 646,300 645.2,297" fill="#bd0026" stroke="#bd0026" stroke-width="1.8" stroke-linejoin="round"/>
<polygon points="646.7,306.7 649.7,305.2 653.5,302.2 655.7,304.5 656.5,309 654.2,312 651.2,310.5 649.7,307.5 646.7,308.2" fill="#bd0026" stroke="#bd0026" stroke-width="1.8" stroke-linejoin="round"/>
<polygon points="634.4,304.5 639.6,297.7 639.2,299.2 635.1,305.2" fill="#bd0026" stroke="#bd0026" stroke-width="1.8" stroke-linejoin="round"/>
<polygon points="583.9,313.5 588.6,313.5 592.5,318.2 598,322.1 602.7,326 604.3,330.7 609,335.4 608.2,342.5 605.1,341.7 601.1,337.8 597.2,331.5 593.3,326 589.4,319.7 585.5,315.8" fill="#800026" stroke="#800026" stroke-width="1.8" stroke-linejoin="round"/>
<polygon points="607.4,344.8 611.3,343.2 620.7,344.8 630.1,348.7 627,350.3 615.2,347.9 609.8,346.4" fill="#800026" stroke="#800026" stroke-width="1.8" stroke-linejoin="round"/>
<polygon points="633.75,349 647.5,348 648,350 634,351" fill="#800026" stroke="#800026" stroke-width="1.8" stroke-linejoin="round"/>
<polygon points="650,352 657.5,348.5 651,354" fill="#800026" stroke="#800026" stroke-width="1.8" stroke-linejoin="round"/>
<polygon points="616.2,322.4 622.5,320 627.5,316.2 632.4,310 634.9,308.7 639.9,313.1 636.2,317.5 637.4,323.7 634.9,328.7 631.2,336.2 626.2,337.4 620,334.9 617.5,329.9" fill="#800026" stroke="#800026" stroke-width="1.8" stroke-linejoin="round"/>
<polygon points="617,323.2 622.5,321.8 630,316.2 636.2,316.2 639.9,313.1 634.9,308.7 632.4,310 627.5,316.2 622.5,320" fill="#bd0026" stroke="#bd0026" stroke-width="1.8" stroke-linejoin="round"/>
<polygon points="639.9,329.9 643.7,324.9 653.6,323.1 649.9,326.2 643.7,328.1 647.4,329.9 644.9,332.4 648.7,339.9 644.9,338.7 642.4,334.9 641.2,341.1" fill="#800026" stroke="#800026" stroke-width="1.8" stroke-linejoin="round"/>
<polygon points="656.1,335.5 666.1,335.5 665,337 657,337.2" fill="#800026" stroke="#800026" stroke-width="1.8" stroke-linejoin="round"/>
<polygon points="660,322.5 661.25,328.75 659,327" fill="#800026" stroke="#800026" stroke-width="1.8" stroke-linejoin="round"/>
<polygon points="667.4,329.9 671.1,328.7 674.8,331.2 673.6,334.3 677.3,336.2 683.6,332.4 689.8,333.7 697.3,337.4 702.3,342.4 704.8,347.4 707.3,351.1 711,354.9 703.5,353.6 697.3,349.9 689.8,351.1 684.8,348.6 682.3,343.6 678.6,339.9 673.6,337.4 669.9,333.7" fill="#800026" stroke="#800026" stroke-width="1.8" stroke-linejoin="round"/>
<polygon points="707.3,342.4 713.5,339.9 716,334.9 714,340 708,343.8" fill="#800026" stroke="#800026" stroke-width="1.8" stroke-linejoin="round"/>
<polygon points="722,341 723.5,341.5 726.5,345 725,345.5" fill="#800026" stroke="#800026" stroke-width="1.8" stroke-linejoin="round"/>
<polygon points="728,346 730,347 732.5,349.5 731,350" fill="#800026" stroke="#800026" stroke-width="1.8" stroke-linejoin="round"/>
<polygon points="733.5,350.5 735.5,351.5 738,355 736.5,355.8" fill="#800026" stroke="#800026" stroke-width="1.8" stroke-linejoin="round"/>
<polygon points="618,418 622,386 640,378 648,370 658,364 668,357 678,360 676,366 685,374 690,368 692,356 698,370 704,384 708,396 706,406 696,418 686,426 678,429 668,424 664,414 654,412 640,414 626,418" fill="#feb24c" stroke="#feb24c" stroke-width="1.8" stroke-linejoin="round"/>
<polygon points="670,436 678,435 676,440 672,440" fill="#feb24c" stroke="#feb24c" stroke-width="1.8" stroke-linejoin="round"/>
<polygon points="742.5,418 744.5,421 745,426 749.5,426.5 746,430 740,433 735.5,436.5 737,431 742,428" fill="#fed976" stroke="#fed976" stroke-width="1.8" stroke-linejoin="round"/>
<polygon points="732,434.5 733,437 726,442 717,447 711,450 708,448.5 715,444 725,439" fill="#fed976" stroke="#fed976" stroke-width="1.8" stroke-linejoin="round"/>
<polygon points="770,372 776,370 775,373 771,374" fill="#800026" stroke="#800026" stroke-width="1.8" stroke-linejoin="round"/>
<polygon points="589,269.5 593.5,269.5 593.5,276 587.5,276.5" fill="#9f0026" stroke="#9f0026" stroke-width="1.8" stroke-linejoin="round"/>
<polygon points="421.8,212.5 424,207.3 425.5,205 430,207.3 436,206.5 440.5,203.5 442,208.8 445,209.5 450,216.25 445,217.3 437.5,215.9 430,216.6 424,214.8" fill="#fff"/>
<polygon points="437,204.5 441,203.5 442,206 438.5,207.2" fill="#fff"/>
<polygon points="391,205.5 394,207 400,213.5 405.5,218.5 402,220.5 395.5,214 389.5,208.5" fill="#fff"/>
<polygon points="416,219.8 420.5,219.5 421.5,227 416,229 413,223.5" fill="#fff"/>
<polygon points="3.5,274 6,273.5 6.5,276.5 4.5,277.5" fill="#fc4e2a" stroke="#fc4e2a" stroke-width="1.8" stroke-linejoin="round"/>
<polygon points="0.5,270 2.5,270.5 1.5,271.5" fill="#fc4e2a" stroke="#fc4e2a" stroke-width="1.8" stroke-linejoin="round"/>
<polygon points="3.5,272 5.5,272.3 5,273" fill="#fc4e2a" stroke="#fc4e2a" stroke-width="1.8" stroke-linejoin="round"/>
<polygon points="740,366 741.5,366.5 743,371 741.5,371.5" fill="#fff" stroke="#fff" stroke-width="1.1"/>
<polygon points="737,380 739,380 744,385.5 742,386" fill="#fff" stroke="#fff" stroke-width="1.1"/>
<polygon points="436,250 440,257 446,269 450,278 455,284 460,292 463,290 461,282 456,276 451,270 445,260 439.5,253" fill="#fff"/>
<polygon points="420,155 426.7,155.8 430.8,156.7 433.3,155 434.5,155.5 432.5,158.3 428.3,160 425.8,158.3 422.5,157.5" fill="#fff"/>
<polygon points="406.7,170.8 415.8,170 415,171.7 406.7,172.5" fill="#fff"/>
<polygon points="207,160.5 215,158.5 225,160.5 233,163.5 240,165.8 238,167.8 232,166.8 222,165.2 215,166.5 209,165" fill="#fff"/>
<polygon points="417.3,199 421,198.5 423.5,203 423,206.5 421.5,207 419,202.5" fill="#9f0026" stroke="#9f0026" stroke-width="1.8" stroke-linejoin="round"/></g>
<g><polygon points="414.2,148.3 422.5,150 430.8,152.5 434.2,155 436.7,151.7 438.3,150.8 441.3,151.8 444.6,153.4 452.8,150.1 464.4,149.3 475.9,150.1 474.3,141.9 480.8,142.7 487.4,152.6 489.1,155.1 485,143.5 495.7,141.1 499,136.9 507.2,136.1 517.1,132.8 525.3,133.7 536.9,136.1 550,138.6 561.5,140.2 571.4,142.7 579.6,145.2 591.1,142.7 610.9,144.4 630.7,148.5 648.8,148.5 660.3,149.3 670.2,154.2 685,162.5 680.1,170.7 670.2,172.4 676.8,183.9 677.5,192.5 670,187.5 663.6,180.6 662,170.7 657,165.8 650.4,169.1 629,174 627.4,183.9 635.6,185.5 641.25,185 647.5,196.25 648.75,205 645,213.75 640,215 638.75,208.75 637.5,201.25 632.5,200 621.25,193.75 610,188.75 606,187.5 600,187.5 595,195 587.5,197.5 570,195 558.75,191.25 542.5,196.25 540,197.5 531.25,193.75 523.75,193.1 511.25,186.25 497.5,182.5 483.75,186.25 482.5,192.5 461.25,192.5 457.5,196.25 457.5,200 460,201.25 465,203.75 461.25,207.5 461.25,210 465,216.25 467.5,221.25 461.25,220 450,216.25 446.25,212.5 441.25,205 443.75,200 442.5,196.25 430,192.5 425,188.75 422.5,182.5 415,177.5 415,171.25 416,170 419.2,164.2 415,157.5 414.2,150.8" fill="#9f0026" stroke="#444" stroke-opacity="0.5" stroke-width="0.45"/>
<polygon points="123.75,148.1 105,145 91.25,146.9 78.75,150.6 78.1,155 67.5,156.9 66,159.5 75.5,160 71.3,162.1 64.2,164.2 57.2,167.1 56.5,169.9 57.2,172.4 62.8,174.1 66.3,173.4 60.7,176.2 50.1,180.5 40.2,184.7 50.1,181.9 59.3,179.8 69.9,174.8 75.5,172 84.7,168.5 79.8,171.3 78.3,173.1 85.4,170.6 90.3,169.2 96,170.6 101.25,170.6 103.75,173.75 108.1,173.75 110,181.25 108.1,183.1 106.25,178.75 103.75,176.25 101.25,171.25" fill="#fc4e2a" stroke="#444" stroke-opacity="0.5" stroke-width="0.45"/>
<polygon points="67.1,178.3 72.7,176.6 67.8,178.7" fill="#fc4e2a" stroke="#444" stroke-opacity="0.5" stroke-width="0.45"/>
<polygon points="43.75,159.4 48.75,155.6 56.9,150.6 59.4,153.75 64.4,155.6 63.75,157.5 56.25,158.75 53.1,160.6" fill="#9f0026" stroke="#444" stroke-opacity="0.5" stroke-width="0.45"/>
<polygon points="123.75,148.1 140,148.5 149.9,147.7 164.7,151 176.2,153.4 189.4,151 196,153.4 204.3,150.1 209.2,146 210.8,153.4 205.9,159.2 207.5,164.1 214.1,162.5 216.25,166.25 220,165.6 227.5,165 232.5,167.5 233.75,173.1 238.75,172.5 242.5,170.6 245,178.75 251.25,185 251.9,190 247.5,193.1 242.5,195 237.5,197.5 233.75,196.25 225,198.75 221.7,203.3 216.7,204.2 206.7,209.2 196.7,212.5 185.8,216.7 190,210 187.5,204.2 180.8,200.8 169.2,198.3 110,198.75 105,191.25 106.9,183.75 110,182.5 110,172.5 101.25,171.25" fill="#fed976" stroke="#444" stroke-opacity="0.5" stroke-width="0.45"/>
<polygon points="185,173.1 190,168.75 198.75,163.75 206.25,161.25 210,165 215,166.25 216.25,175 212.5,180 207.5,183.75 206.9,190 202.5,192.5 200.6,187.5 201.25,182.5 193.75,180 186.25,176.25" fill="#fff" stroke="#444" stroke-opacity="0.5" stroke-width="0.45"/>
<polygon points="222.5,205 227.5,198.75 231.25,198.75 230,203.75 236.25,205 237.5,206.9 225,211.9 223.1,210" fill="#fed976" stroke="#444" stroke-opacity="0.5" stroke-width="0.45"/>
<polygon points="241.25,201.25 247.5,193.75 252.5,197.5 253.75,203.75 250,202.5 245,200.6" fill="#fed976" stroke="#444" stroke-opacity="0.5" stroke-width="0.45"/>
<polygon points="214.1,144.4 222.4,141 235.6,140.2 242.1,146 248.7,149.3 253.7,155.1 245.4,157.5 242.1,164.1 235.6,164.1 227.3,160.8 224,157.5 230.6,152.6 220.7,149.3" fill="#fed976" stroke="#444" stroke-opacity="0.5" stroke-width="0.45"/>
<polygon points="156.5,144.4 164.7,139.4 174.6,139.4 182.8,141.9 191,141 189.4,147.7 181.2,150.1 168,149.3 158.1,145.2" fill="#fed976" stroke="#444" stroke-opacity="0.5" stroke-width="0.45"/>
<polygon points="222.4,126.2 238.8,123.8 255.3,122.9 276.7,122.9 258.6,127.9 245.4,131.2 233.9,134.5 225.7,132.8 227.3,129.5" fill="#fed976" stroke="#444" stroke-opacity="0.5" stroke-width="0.45"/>
<polygon points="173,134.5 182.8,132 194.4,132.8 197.7,137 186.1,138.6 177.9,137" fill="#fed976" stroke="#444" stroke-opacity="0.5" stroke-width="0.45"/>
<polygon points="204.3,134.5 214.1,133.7 235.6,135.3 232.3,138.6 217.4,137.8 205.9,137" fill="#fed976" stroke="#444" stroke-opacity="0.5" stroke-width="0.45"/>
<polygon points="196,141 205,139.5 212,141 208,146 200,147" fill="#fed976" stroke="#444" stroke-opacity="0.5" stroke-width="0.45"/>
<polygon points="212,152 220,150 225,156 218,160 212,158" fill="#fed976" stroke="#444" stroke-opacity="0.5" stroke-width="0.45"/>
<polygon points="110,198.75 169.2,198.3 180.8,200.8 187.5,204.2 190,210 185.8,216.7 196.7,212.5 206.7,209.2 216.7,204.2 221.7,203.3 222.1,209.2 213.3,212.5 213.3,216.7 206.7,219.2 200,225 196.7,227.5 196.7,234.2 187.5,240 180,245 181.25,255 180,260 177.5,255 175,247.5 165,248.1 160,250 151.25,249.4 145,253.1 142.5,258.1 140,256.25 133.75,248.1 128.75,248.75 125,243.75 112.5,241.9 102.5,240.6 97.5,236.25 95.6,226.25 96.25,220 100,213.75 107.5,203.75" fill="#fc4e2a" stroke="#444" stroke-opacity="0.5" stroke-width="0.45"/>
<polygon points="102.9,241.6 112.5,241.9 125,243.75 128.75,248.75 133.75,248.1 140,256.25 141.7,259 140.1,268.5 142.5,276.4 147.3,278.8 153.6,275.6 158.3,271.7 163.9,270.9 161.5,278 158.3,281.2 156.8,287.5 150.4,285.9 139.3,283.5 128.3,278 121.9,273.3 120.3,260.6 112.4,246.3 108,243.5 111,255 114,263.8 111.6,266.1 107.7,257.4 103.7,254.3" fill="#fd8d3c" stroke="#444" stroke-opacity="0.5" stroke-width="0.45"/>
<polygon points="150.4,285.9 156.8,287.5 158.3,281.2 161.5,279 162,285 169.4,286.7 167.8,289 160,290 155.2,290.7" fill="#fd8d3c" stroke="#444" stroke-opacity="0.5" stroke-width="0.45"/>
<polygon points="160,290 167.8,289 169.4,286.7 170,293 168,298.6 163,298.6 159.9,292.3" fill="url(#hatch)" stroke="#c8c8c8" stroke-width="0.45"/>
<polygon points="163,298.6 168,298.6 172,302 177,304 182,303 184,306 180,307 175,306 170,305 166,302" fill="#fed976" stroke="#444" stroke-opacity="0.5" stroke-width="0.45"/>
<polygon points="168.6,269.3 174.2,266.1 183.7,268.5 191.6,273.3 186.8,274 178.9,270.9 171,270.1" fill="#fc4e2a" stroke="#444" stroke-opacity="0.5" stroke-width="0.45"/>
<polygon points="191.6,276.4 197.9,274.8 204.3,277.2 199.5,279.6 193.2,278.8" fill="#fed976" stroke="#444" stroke-opacity="0.5" stroke-width="0.45"/>
<polygon points="182.9,278.8 186.8,279.6 185.3,280.4" fill="#feb24c" stroke="#444" stroke-opacity="0.5" stroke-width="0.45"/>
<polygon points="196.7,295.5 193.5,300.3 194.3,305.8 205.4,311.4 207,322.5 200.6,323.3 199,332.8 191.9,328.8 187.2,327.2 180,323.3 182.4,316.9 182.4,305.8 179.3,302.7 184,306 182,303 186,300 191,297" fill="#fed976" stroke="#444" stroke-opacity="0.5" stroke-width="0.45"/>
<polygon points="196.7,295.5 201.4,296.3 210.9,301.1 219.6,299.5 222,305.8 214.1,313.8 212.5,320.9 207,323.3 205.4,311.4 194.3,305.8 193.5,300.3" fill="url(#hatch)" stroke="#c8c8c8" stroke-width="0.45"/>
<polygon points="174.5,328 180.8,325.6 187.2,328 185.6,332.8 178.5,335.9 176.1,339.1 173.7,334.3" fill="#feb24c" stroke="#444" stroke-opacity="0.5" stroke-width="0.45"/>
<polygon points="173.7,339.1 178.5,335.9 185.6,332.8 187.2,329.6 191.9,328.8 199,335.9 191.9,342.3 193.5,350.2 206.2,353.3 202.2,358.1 203,373.9 199.8,373.1 188.8,366 182.4,356.5 173.7,340.7" fill="#fed976" stroke="#444" stroke-opacity="0.5" stroke-width="0.45"/>
<polygon points="200.6,323.3 207,323.3 214.1,316.9 218.8,316.9 223.6,324 242.6,321.7 245.8,327.2 258.4,332.8 269.5,335.9 279.8,340.7 281.4,348.6 274.3,356.5 271.1,372.3 271.4,375 268.9,384.7 258,390.8 253.1,396.9 252.5,405.4 244.6,413.9 233.7,407.2 241,396.9 238.5,390.8 231.2,386 228.8,378.6 229.1,381.8 229.9,375.5 225.2,367.6 206.2,359.7 206.2,353.3 193.5,350.2 191.9,342.3 199,335.9" fill="#feb24c" stroke="#444" stroke-opacity="0.5" stroke-width="0.45"/>
<polygon points="220.4,309 225.2,305.8 229.9,312.2 226.8,318.5 229.1,323.3 223.6,323.3 218.8,316.9" fill="#feb24c" stroke="#444" stroke-opacity="0.5" stroke-width="0.45"/>
<polygon points="229.9,313 239.4,313.8 242.6,318.5 234.7,320.9 229.1,321.7" fill="url(#hatch)" stroke="#c8c8c8" stroke-width="0.45"/>
<polygon points="239.4,313.8 243,317 245.8,322 242.6,321.7" fill="#feb24c" stroke="#444" stroke-opacity="0.5" stroke-width="0.45"/>
<polygon points="202.2,358.1 206.2,353.3 207.8,360.5 225.2,367.6 229.9,375.5 229.1,381.8 220.4,380.3 214.1,385 206.2,385 203,375.5" fill="#fd8d3c" stroke="#444" stroke-opacity="0.5" stroke-width="0.45"/>
<polygon points="220.3,379.9 228.8,378.6 231.2,386 238.5,390.8 238.5,398.1 231.2,399.3 231.2,394.5 221.5,388.4 219.7,383.5" fill="#feb24c" stroke="#444" stroke-opacity="0.5" stroke-width="0.45"/>
<polygon points="233.7,407.2 244.6,413.9 241,418.8 234.9,417.6" fill="#fd8d3c" stroke="#444" stroke-opacity="0.5" stroke-width="0.45"/>
<polygon points="209.3,387.2 214.1,385 220.4,380.3 219.7,383.5 221.5,388.4 231.2,394.5 231.8,399.3 238.5,398.1 241,396.9 233.7,406.6 234.3,417.6 238.5,423.7 236.1,428.5 228.8,431 227.6,435.8 223.9,438.3 225.1,443.1 226,440 225.3,446 223,448.3 226.8,452 224.5,460.3 225.3,463.3 218.5,462.5 214,455 209.5,440 207.5,423.7 206.3,411.5 207.5,399.3" fill="#fc4e2a" stroke="#444" stroke-opacity="0.5" stroke-width="0.45"/>
<polygon points="225.3,464.8 235,470.8 229,470" fill="#fc4e2a" stroke="#444" stroke-opacity="0.5" stroke-width="0.45"/>
<polygon points="200.8,375 203.2,375 205.7,382.3 209.3,388.4 207.5,399.3 206.3,411.5 207.5,423.7 209.5,440 214,455 218.5,462.5 224.5,464 230.5,470 235,470.8 230.5,472.3 221.5,470 212.5,463.3 208,455 206.5,449.8 204.5,435.8 202.6,426.1 202,411.5 202,399.3 201.4,387.2" fill="#e31a1c" stroke="#444" stroke-opacity="0.5" stroke-width="0.45"/>
<polygon points="252.9,131.2 259.4,127.9 276.2,123.4 298.2,122.1 330.6,121.5 344.8,124.7 333.2,127.3 333.2,133.1 329.3,139.6 322.8,146.1 312.5,151.2 295.6,156.4 289.2,161.6 280.1,170.6 272.4,166.8 269.8,156.4 271.1,148.6 269.8,138.3 260.7,133.1" fill="url(#hatch)" stroke="#c8c8c8" stroke-width="0.45"/>
<polygon points="320.2,157.7 328,156.4 337.1,157.1 335.8,160.3 328,162.2 321.5,161" fill="#ffeda0" stroke="#444" stroke-opacity="0.5" stroke-width="0.45"/>
<polygon points="377.8,128.1 384.3,127 389.7,126.5 401.6,127 395.1,128.7 396.2,130.8 389.7,130.3 387.5,133.5 383.2,132.5" fill="#fed976" stroke="#444" stroke-opacity="0.5" stroke-width="0.45"/>
<polygon points="372.3,166.6 378.8,163.3 387.5,154.7 395.1,149.3 403.8,146 413.5,146 411.3,149.3 403.8,151.4 397.3,150.3 389.7,153.6 385.3,161.2 384.3,168.8 383.2,174.2 376.7,175.3 372.3,172" fill="#fed976" stroke="#444" stroke-opacity="0.5" stroke-width="0.45"/>
<polygon points="384.3,164.4 389.7,153.6 397.3,150.9 402.7,152.5 400.5,157.9 395.1,165.5 394,169.8 399.4,176.3 394,180.7 388.6,182.8 385.3,178.5 384.3,172" fill="#fc4e2a" stroke="#444" stroke-opacity="0.5" stroke-width="0.45"/>
<polygon points="402.7,152.5 410.3,149.3 413.5,150 414.2,150.8 415,157.5 419.2,164.2 415,168.3 413.5,170.9 404.8,170.9 401.6,165.5 404.8,161.2 407,157.9 401.6,156.8" fill="#fc4e2a" stroke="#444" stroke-opacity="0.5" stroke-width="0.45"/>
<polygon points="406.7,173.3 414.2,172.5 415,176.7 410,175.8" fill="#e31a1c" stroke="#444" stroke-opacity="0.5" stroke-width="0.45"/>
<polygon points="403.1,177.5 410,176.25 415,176.25 422.5,182.5 412.5,182.5 405,183.75" fill="#9f0026" stroke="#444" stroke-opacity="0.5" stroke-width="0.45"/>
<polygon points="410,183.75 422.5,182.5 425,188.75 420,191.25 410,191.25 408.75,187.5" fill="#800026" stroke="#444" stroke-opacity="0.5" stroke-width="0.45"/>
<polygon points="410,192.5 420,191.25 425,188.75 430,190 442.5,197.5 443.75,203.75 435,207.5 427.5,206.25 422.5,203.75 420,200 410,197.5 408.75,197.5" fill="#bd0026" stroke="#444" stroke-opacity="0.5" stroke-width="0.45"/>
<polygon points="391.25,185 402.5,183.75 408.75,187.5 410,192.5 408.75,197.5 400,196.25 391.25,192.5" fill="#fc4e2a" stroke="#444" stroke-opacity="0.5" stroke-width="0.45"/>
<polygon points="378.75,183.75 382.5,185 391.25,185 391.25,192.5 387.5,195 390,198.75 387.5,201.9 380,201.25 376.25,197.5 375,190" fill="#fd8d3c" stroke="#444" stroke-opacity="0.5" stroke-width="0.45"/>
<polygon points="378.8,178 382.2,177.2 383,183 379.7,183.8" fill="#feb24c" stroke="#444" stroke-opacity="0.5" stroke-width="0.45"/>
<polygon points="371.3,188.8 375.5,187.2 376,192.2 371.3,193" fill="#fd8d3c" stroke="#444" stroke-opacity="0.5" stroke-width="0.45"/>
<polygon points="368.8,193.8 373,193 375,192 376.5,196 371.3,196.3" fill="#fc4e2a" stroke="#444" stroke-opacity="0.5" stroke-width="0.45"/>
<polygon points="351.3,176.3 355.5,174.7 358,177.2 356.3,181.3 360.5,184.7 363,188.8 365.5,190.5 363.8,193 358.8,193.8 352.2,195.5 353.8,193 356.3,190.5 353,188.8 353.8,186.3 352.2,183.8 351.3,179.7" fill="#feb24c" stroke="#444" stroke-opacity="0.5" stroke-width="0.45"/>
<polygon points="343,190.5 344.7,186.3 348,183.8 350.5,184.7 349.7,188.8 346.3,190.5" fill="#fd8d3c" stroke="#444" stroke-opacity="0.5" stroke-width="0.45"/>
<polygon points="353,199.7 358.8,197.2 364.7,194.7 367.2,193.8 371.3,196.3 377.2,198.8 375.5,204.7 376.3,211.3 371.3,213 366.3,213.8 359.7,212.2 360.5,204.7 358,200.5" fill="#bd0026" stroke="#444" stroke-opacity="0.5" stroke-width="0.45"/>
<polygon points="343.75,212.5 358.75,212.5 367.5,215 362.5,220 361.25,226.25 355,230 348.1,231.25 346.25,226.25 347.5,216.9" fill="#fc4e2a" stroke="#444" stroke-opacity="0.5" stroke-width="0.45"/>
<polygon points="343.1,213.75 347.5,216.9 346.25,226.25 343.1,227.5 342.5,221.25" fill="#e31a1c" stroke="#444" stroke-opacity="0.5" stroke-width="0.45"/>
<polygon points="387.5,195 391.25,192.5 398.75,195 396.25,198.75 390,198.75" fill="#e31a1c" stroke="#444" stroke-opacity="0.5" stroke-width="0.45"/>
<polygon points="382.5,201.25 390,198.75 396.25,198.75 398,201 395,202.5 390,205 383,203.5" fill="#fc4e2a" stroke="#444" stroke-opacity="0.5" stroke-width="0.45"/>
<polygon points="376.25,202.5 382.5,201.9 383,203.5 381.25,205 377.5,204" fill="#fc4e2a" stroke="#444" stroke-opacity="0.5" stroke-width="0.45"/>
<polygon points="396.25,198.75 400,196.25 408.75,197.5 410,197.5 407.5,201.25 407.5,206.25 396.25,206.25 395,202.5 398,201" fill="#bd0026" stroke="#444" stroke-opacity="0.5" stroke-width="0.45"/>
<polygon points="407.5,201.25 410,197.5 420,200 422.5,208.75 415,211.9 407.5,208.75" fill="#bd0026" stroke="#444" stroke-opacity="0.5" stroke-width="0.45"/>
<polygon points="390,205 396.25,206.25 407.5,206.25 407.5,208.75 415,211.9 413.75,216.9 410,218.75 402.5,217.5 393.75,211.25" fill="#9f0026" stroke="#444" stroke-opacity="0.5" stroke-width="0.45"/>
<polygon points="415,211.9 422.5,208.75 422.5,210 423,215 421.25,217.5 413.75,216.9" fill="#9f0026" stroke="#444" stroke-opacity="0.5" stroke-width="0.45"/>
<polygon points="406.25,218.75 413.75,216.9 421.25,217.5 415,219.4 410,222.5 412.5,230 408.75,230 405,222.5" fill="#e31a1c" stroke="#444" stroke-opacity="0.5" stroke-width="0.45"/>
<polygon points="415,233.75 420,233.5 420,234.8 415,235" fill="#e31a1c" stroke="#444" stroke-opacity="0.5" stroke-width="0.45"/>
<polygon points="376.25,203.75 381.25,202.5 383,203.5 390,205 388.75,208.75 395,215 401.25,221.25 398.75,223.75 397.5,227.5 393.75,226.25 395,222.5 390,218.75 382.5,212.5 378.75,207.5" fill="#fc4e2a" stroke="#444" stroke-opacity="0.5" stroke-width="0.45"/>
<polygon points="389.4,227.5 395,226.9 393.75,230" fill="#fc4e2a" stroke="#444" stroke-opacity="0.5" stroke-width="0.45"/>
<polygon points="380,215 382.5,215 382.5,223.75 380.6,223.75" fill="#fc4e2a" stroke="#444" stroke-opacity="0.5" stroke-width="0.45"/>
<polygon points="358.75,231.25 357.5,235 360,240 345,250 340,252.5 334.5,255 342,242.5 347,237.5 354.5,232.5" fill="#fd8d3c" stroke="#444" stroke-opacity="0.5" stroke-width="0.45"/>
<polygon points="357.5,232.5 378.75,230 381.25,237.5 383.1,246.25 383.75,257.5 390,265 380,275 370,270 345,250 360,240 357.5,235" fill="#9f0026" stroke="#444" stroke-opacity="0.5" stroke-width="0.45"/>
<polygon points="378.75,230 383.75,228.75 386.25,237.5 385,245 383.1,246.25 381.25,237.5" fill="#e31a1c" stroke="#444" stroke-opacity="0.5" stroke-width="0.45"/>
<polygon points="386.25,238.75 396.25,243.75 405,242.5 415,240 418.75,245 418.75,265 383.75,265 383.75,257.5 383.1,246.25 385,245" fill="url(#hatch)" stroke="#c8c8c8" stroke-width="0.45"/>
<polygon points="418.75,245 427.5,243.75 436.25,243.75 440,248.75 438.75,257.5 441.25,265 418.75,265" fill="#800026" stroke="#444" stroke-opacity="0.5" stroke-width="0.45"/>
<polygon points="450,216.25 461.25,220 467.5,221.25 468.75,225 461.25,226.25 457.5,222.5" fill="#9f0026" stroke="#444" stroke-opacity="0.5" stroke-width="0.45"/>
<polygon points="420,220 427.5,217.5 442.5,218.75 450,216.9 457.5,222.5 461.25,226.25 450,230 438.75,230.6 430,230 422.5,228.75" fill="#9f0026" stroke="#444" stroke-opacity="0.5" stroke-width="0.45"/>
<polygon points="457.5,223.1 468.75,225 478.75,227.5 490,228.75 496.25,232.5 497.5,246.25 502.5,253.75 503.75,256.25 495,257.5 485,252.5 476.25,247.5 470,246.25 463.75,235 458.75,227.5" fill="#fd8d3c" stroke="#444" stroke-opacity="0.5" stroke-width="0.45"/>
<polygon points="475,216.25 485,215 492.5,222.5 506.25,226.25 500,233.75 490,228.75 478.75,227.5 477.5,222.5" fill="#fed976" stroke="#444" stroke-opacity="0.5" stroke-width="0.45"/>
<polygon points="480,208.1 488.75,208.75 500,213.75 507.5,217.5 515,220 510,223.75 506.25,226.25 492.5,222.5 485,215" fill="#e31a1c" stroke="#444" stroke-opacity="0.5" stroke-width="0.45"/>
<polygon points="500,233.75 506.25,226.25 515,228.75 520,227.5 517.5,235 515,242.5 507.5,246.25 500,247.5 497.5,246.25 496.25,232.5" fill="#bd0026" stroke="#444" stroke-opacity="0.5" stroke-width="0.45"/>
<polygon points="450,230 461.25,226.25 463.75,235 470,246.25 466.25,248.75 457.5,245 448.75,240 452.5,235" fill="#bd0026" stroke="#444" stroke-opacity="0.5" stroke-width="0.45"/>
<polygon points="442.5,231.25 450,230 452.5,235 448.75,240 443.75,240 441.9,236.25" fill="url(#hatch)" stroke="#c8c8c8" stroke-width="0.45"/>
<polygon points="440,238.75 448.75,240 445,247.5 441.25,248.75 440,243.75" fill="#9f0026" stroke="#444" stroke-opacity="0.5" stroke-width="0.45"/>
<polygon points="441.25,248.75 445,247.5 448.75,240 457.5,245 466.25,248.75 470,250 477.5,258.75 480,263.75 487.5,267.5 488.75,272.5 482.5,276.25 472.5,278.75 461.25,281.5 456,276 451,270 445,260 439.5,253 440,249.5" fill="#fc4e2a" stroke="#444" stroke-opacity="0.5" stroke-width="0.45"/>
<polygon points="461.25,281.25 472.5,278.1 481.25,276.9 483.75,283.75 472.5,288.75 463.75,293.75 461.9,288.75" fill="#e31a1c" stroke="#444" stroke-opacity="0.5" stroke-width="0.45"/>
<polygon points="482.5,276.25 488.75,272.5 488.75,265 490,262.5 495,266.25 498.75,268.75 493.75,276.25 485,282.5" fill="#feb24c" stroke="#444" stroke-opacity="0.5" stroke-width="0.45"/>
<polygon points="480,263.75 487.5,262.5 488.75,258.75 488.75,265 487.5,267.5" fill="#feb24c" stroke="#444" stroke-opacity="0.5" stroke-width="0.45"/>
<polygon points="433.75,233.75 437,233.5 436.9,235" fill="#9f0026" stroke="#444" stroke-opacity="0.5" stroke-width="0.45"/>
<polygon points="418.75,245 427.5,243.75 436.25,243.75 440,246.25 441.25,248.75 438.75,253.75 436.25,250 445,268.75 445,269.4 418.75,269.4" fill="#800026" stroke="#444" stroke-opacity="0.5" stroke-width="0.45"/>
<polygon points="383.75,257.5 418.75,257.5 418.75,269.4 395.5,267.5 389.25,265" fill="url(#hatch)" stroke="#c8c8c8" stroke-width="0.45"/>
<polygon points="418.75,269.4 446.25,270 450,280 458.75,291.25 452.5,290 446.25,296.25 441.25,305 440,307.5 438.75,298.75 424,301.25 414.25,298.75 414.25,291.25 416.75,275 418.75,269.4" fill="url(#hatch)" stroke="#c8c8c8" stroke-width="0.45"/>
<polygon points="334.25,254.4 342.4,255 341.75,258.75 334.25,260 331.75,270 324.25,271.25 326.75,263.75" fill="url(#hatch)" stroke="#c8c8c8" stroke-width="0.45"/>
<polygon points="357.5,232.5 378.75,230 381.25,237.5 383.1,246.25 383.75,257.5 384.25,245 389.25,265 370.5,276.25 348,261.25 343,252.5 353,246.25 360,240 357.5,235" fill="#9f0026" stroke="#444" stroke-opacity="0.5" stroke-width="0.45"/>
<polygon points="331.75,270 334.25,260 341.75,258.75 348,261.25 349.25,286.25 335.5,287.5 333,285 324.25,283.75 325.5,275" fill="#feb24c" stroke="#444" stroke-opacity="0.5" stroke-width="0.45"/>
<polygon points="348,261.25 370.5,276.25 371.75,285 364.25,288.75 355.5,292.5 351.75,297.5 344.25,300 341.75,296.25 336.75,288.75 335.5,287.5 349.25,286.25" fill="#feb24c" stroke="#444" stroke-opacity="0.5" stroke-width="0.45"/>
<polygon points="370.5,276.25 389.25,265 395.5,267.5 398,282.5 393,292.5 380.5,291.25 371.75,291.25 364.25,288.75 371.75,285" fill="#fed976" stroke="#444" stroke-opacity="0.5" stroke-width="0.45"/>
<polygon points="395.5,267.5 416.75,275 414.25,291.25 414.25,298.75 405.5,303.75 398,302.5 395.5,292.5 398,282.5" fill="#fed976" stroke="#444" stroke-opacity="0.5" stroke-width="0.45"/>
<polygon points="322.1,288.4 324.9,284.1 330.6,284.1 334.1,287.6 335.5,288.75 334.8,293.3 329.9,294 324.2,293.3 322.8,290.5" fill="#fed976" stroke="#444" stroke-opacity="0.5" stroke-width="0.45"/>
<polygon points="323.5,290.8 329.9,290.8 329.9,292.2 323.5,292.2" fill="#fd8d3c" stroke="#444" stroke-opacity="0.5" stroke-width="0.45"/>
<polygon points="324.2,294.7 329.9,294.4 329.2,296.8 326.4,297.2" fill="#feb24c" stroke="#444" stroke-opacity="0.5" stroke-width="0.45"/>
<polygon points="327.8,297.5 332.7,295.4 335.5,294.7 341.2,295.1 342.6,298.2 342.6,306.7 339.1,304.6 336.2,301.8 332,301.1 329.2,300.3" fill="url(#hatch)" stroke="#c8c8c8" stroke-width="0.45"/>
<polygon points="332,302.5 335.5,301.1 337.6,303.9 335.5,308.8 332.7,306" fill="#feb24c" stroke="#444" stroke-opacity="0.5" stroke-width="0.45"/>
<polygon points="336.9,306 339.1,304.6 342.6,307.4 344,314.5 340.5,311.6 336.9,308.8" fill="#fed976" stroke="#444" stroke-opacity="0.5" stroke-width="0.45"/>
<polygon points="343.3,300.3 350.3,299.6 355.3,298.2 356,305.3 356,313.8 349.6,313.8 344.7,315.2 342.6,307.4" fill="#feb24c" stroke="#444" stroke-opacity="0.5" stroke-width="0.45"/>
<polygon points="350.3,298.9 351.8,294.7 356.7,290.5 361.6,288.4 365.2,291.9 367.3,294.7 362.3,298.2 356.7,298.2" fill="#fd8d3c" stroke="#444" stroke-opacity="0.5" stroke-width="0.45"/>
<polygon points="356,298.2 362.3,298.2 363,311.6 359.5,313.8 356,313.8" fill="#ffeda0" stroke="#444" stroke-opacity="0.5" stroke-width="0.45"/>
<polygon points="362.3,298.2 364.5,298.2 365.2,310.2 363,310.9" fill="#ffeda0" stroke="#444" stroke-opacity="0.5" stroke-width="0.45"/>
<polygon points="364.5,296.1 369.4,295.4 370.1,303.2 367.3,310.2 365.2,310.2" fill="#fed976" stroke="#444" stroke-opacity="0.5" stroke-width="0.45"/>
<polygon points="364.5,288.5 371.75,291.25 370.5,293 369.4,295.4 367.3,294.7 365.2,291.9" fill="#fed976" stroke="#444" stroke-opacity="0.5" stroke-width="0.45"/>
<polygon points="370.5,292.5 380.5,291.25 393,292.5 395.5,297.5 389.25,307.5 383,310 374.25,315 370.5,310 369.25,295" fill="#ffeda0" stroke="#444" stroke-opacity="0.5" stroke-width="0.45"/>
<polygon points="383,310 389.25,307.5 395.5,297.5 398,303.75 393.75,302.5 396.25,311.25 400,318.75 392.5,320.6 383.75,320 382.5,316" fill="#fed976" stroke="#444" stroke-opacity="0.5" stroke-width="0.45"/>
<polygon points="398,302.5 405.5,303.75 414.25,298.75 424,301.25 432.5,312 432.5,316.25 420,314.4 406.25,315 403.75,318.1 400,318.75 396.25,311.25 393.75,302.5" fill="url(#hatch)" stroke="#c8c8c8" stroke-width="0.45"/>
<polygon points="424,301.25 438.75,298.75 440,307.5 442.5,313.75 432.5,316.25 432.5,312" fill="url(#hatch)" stroke="#c8c8c8" stroke-width="0.45"/>
<polygon points="441.25,305 446.25,296.25 450,290 457.5,291.25 461.25,297.5 465,302.5 472.5,307.5 462.5,313.75 453.75,317.5 445,313.75 440,307.5" fill="#ffeda0" stroke="#444" stroke-opacity="0.5" stroke-width="0.45"/>
<polygon points="461.25,297.5 480,296.25 477.5,306.25 470,315 460,325 457.5,321.25 462.5,313.75 472.5,307.5 465,302.5" fill="url(#hatch)" stroke="#c8c8c8" stroke-width="0.45"/>
<polygon points="457.5,316.25 470,315 460,325 458.75,331.25 457.5,325" fill="url(#hatch)" stroke="#c8c8c8" stroke-width="0.45"/>
<polygon points="383.75,321.25 392.5,321.25 395,331.25 388.75,337.5 382.5,328.75" fill="url(#hatch)" stroke="#c8c8c8" stroke-width="0.45"/>
<polygon points="392.5,321.9 403.75,318.1 402.5,327.5 398.75,336.25 391.25,338.75 388.75,337.5 395,331.25" fill="#fc4e2a" stroke="#444" stroke-opacity="0.5" stroke-width="0.45"/>
<polygon points="403.75,318.1 406.25,315 420,314.4 432.5,316.25 431.25,331.25 430,337.5 432.5,348.75 428.75,351.25 428.75,358.75 422.5,356.25 415,355 412.5,346.25 402.5,347.5 400,342.5 392.5,342.5 391.25,338.75 398.75,336.25 402.5,327.5" fill="#fd8d3c" stroke="#444" stroke-opacity="0.5" stroke-width="0.45"/>
<polygon points="432.5,317.5 442.5,316.25 442.5,328.75 432.5,330" fill="#fed976" stroke="#444" stroke-opacity="0.5" stroke-width="0.45"/>
<polygon points="442.5,313.75 453.75,317.5 457.5,316.25 458.75,331.25 452.5,340 442.5,332.5 442.5,328.75" fill="#feb24c" stroke="#444" stroke-opacity="0.5" stroke-width="0.45"/>
<polygon points="432.5,331.25 442.5,331.25 452.5,340 455,355 445,357.5 440,353.75 432.5,350 431.25,338.75" fill="#feb24c" stroke="#444" stroke-opacity="0.5" stroke-width="0.45"/>
<polygon points="391.25,343.1 400,342.5 402.5,347.5 412.5,346.25 415,355 413.75,365 413.75,371.25 410,374.4 390,372.5 388.75,367.5 392.5,360 393.75,350" fill="url(#hatch)" stroke="#c8c8c8" stroke-width="0.45"/>
<polygon points="415,357.5 422.5,356.25 428.75,360 428.75,350 438.75,352.5 438.75,362.5 432.5,366.25 430,368.75 421.25,373.75 413.75,371.25 413.75,362.5" fill="#fc4e2a" stroke="#444" stroke-opacity="0.5" stroke-width="0.45"/>
<polygon points="443.75,358.75 455,355 456.25,368.75 442.5,376.25 442.5,387.5 436.25,395 433.75,391.25 437.5,385 436.25,371.25 430,368.75 438.75,362.5" fill="url(#hatch)" stroke="#c8c8c8" stroke-width="0.45"/>
<polygon points="440,353.75 443.75,360 445,368.75 442.5,371.25 441.25,365 439.4,360" fill="#feb24c" stroke="#444" stroke-opacity="0.5" stroke-width="0.45"/>
<polygon points="390,372.5 410,374.4 408.75,387.5 406.9,402.5 402.5,403.75 398.75,401.25 395,388.75 392.5,380" fill="#fd8d3c" stroke="#444" stroke-opacity="0.5" stroke-width="0.45"/>
<polygon points="410,374.4 420,373.75 428.75,385 420,393.75 410,397.5 408.1,390" fill="#e31a1c" stroke="#444" stroke-opacity="0.5" stroke-width="0.45"/>
<polygon points="421.25,373.75 430,368.75 436.25,371.25 437.5,385 430,385.6 425,381.25" fill="#fd8d3c" stroke="#444" stroke-opacity="0.5" stroke-width="0.45"/>
<polygon points="400,402.5 406.9,402.5 408.75,387.5 410,397.5 420,393.75 428.75,385 433.75,386.25 435,395 435,400 430,407.5 420,415 406.25,418.75 402.5,415 401.25,407.5" fill="#e31a1c" stroke="#444" stroke-opacity="0.5" stroke-width="0.45"/>
<polygon points="423.1,405 426.25,402.5 428.1,405 425,408.1" fill="#9f0026" stroke="#444" stroke-opacity="0.5" stroke-width="0.45"/>
<polygon points="431.9,396.25 434.4,396.9 433.1,398.75" fill="#feb24c" stroke="#444" stroke-opacity="0.5" stroke-width="0.45"/>
<polygon points="476.25,360 478.75,367.5 473.75,378.75 468.75,391.25 463.75,393.75 461.25,385 463.75,372.5 470,368.75" fill="#9f0026" stroke="#444" stroke-opacity="0.5" stroke-width="0.45"/>
<polygon points="446.7,143.3 453.3,136.7 465,135 455,141.7 457.5,145.8 451.7,145" fill="#9f0026" stroke="#444" stroke-opacity="0.5" stroke-width="0.45"/>
<polygon points="494,126.2 508.8,128.7 518.7,130.4 508.8,130.4 495.7,127.9" fill="#9f0026" stroke="#444" stroke-opacity="0.5" stroke-width="0.45"/>
<polygon points="574.7,134.5 590,135 597.7,137.8 585,137.5" fill="#9f0026" stroke="#444" stroke-opacity="0.5" stroke-width="0.45"/>
<polygon points="426.5,126.2 436.4,126.2 432,128" fill="#9f0026" stroke="#444" stroke-opacity="0.5" stroke-width="0.45"/>
<polygon points="457.5,196.25 461.25,192.5 482.5,192.5 483.75,186.25 497.5,182.5 511.25,186.25 523.75,193.1 531.25,193.75 540,197.5 533.75,203.75 530,210 532.5,214 521.25,215 513.75,216.25 510,217.5 505,213.75 492.5,207.5 480,207.5 475,212.5 471.25,206.25 465,203.75 460,201.25 457.5,200" fill="#bd0026" stroke="#444" stroke-opacity="0.5" stroke-width="0.45"/>
<polygon points="461.25,207.5 471.25,203.75 472.5,207.5 467.5,210 470,216.25 476.25,217.5 478.75,222.5 478.75,228.75 470,228.75 467.5,223.75 465,216.25 461.25,210" fill="#fff" stroke="#444" stroke-opacity="0.5" stroke-width="0.45"/>
<polygon points="480,207.5 492.5,207.5 505,213.75 510,217.5 507.5,222.5 510,227.5 505,227.5 497.5,220 485,216.25 480,215 475,212.5" fill="#e31a1c" stroke="#444" stroke-opacity="0.5" stroke-width="0.45"/>
<polygon points="476.25,217.5 485,216.25 497.5,220 505,227.5 500,232.5 492.5,228.75 482.5,227.5 478.75,228.75 478.75,222.5" fill="#fed976" stroke="#444" stroke-opacity="0.5" stroke-width="0.45"/>
<polygon points="511.25,217.5 521.25,215 532.5,213.75 530,218.75 520,220 513.75,221.25" fill="#800026" stroke="#444" stroke-opacity="0.5" stroke-width="0.45"/>
<polygon points="508.75,222.5 513.75,221.25 520,220 525,227.5 517.5,228.75 510,227.5" fill="url(#hatch)" stroke="#c8c8c8" stroke-width="0.45"/>
<polygon points="500,232.5 505,227.5 510,227.5 517.5,228.75 525,227.5 518.75,230 517.5,240 510,245 500,247.5 497.5,246.25 496.25,232.5" fill="#bd0026" stroke="#444" stroke-opacity="0.5" stroke-width="0.45"/>
<polygon points="502.5,248.75 511.25,245 518.75,240 523.75,235 528.75,235 527.5,242.5 521.25,253.75 522.5,262.5 517.5,263.75 512.5,260 503.75,260 502.5,255" fill="#e31a1c" stroke="#444" stroke-opacity="0.5" stroke-width="0.45"/>
<polygon points="540,197.5 542.5,200 550,202.5 552.5,207.5 562.5,212.5 572.5,215 585,217.5 595,213.75 597.5,207.5 606,203.75 606,188.75 610,188.75 621.25,193.75 632.5,200 637.5,201.25 638.75,208.75 640,215 637.9,214.6 634.2,216.7 630,221.7 628.3,223.3 625,222.5 623.3,220.8 620,221.7 620,228.3 623.3,229.2 628.3,228.8 625.8,233.3 625,235.8 630,240.8 634.2,246.7 635.8,250 633.75,257.5 627.5,263.75 624.7,269 616.7,271.7 612.7,271.7 606,269 600.7,266.3 592.7,270.3 590,270.3 584.7,262.3 583.3,253 576.7,250.3 565,253.75 562.5,256.25 552.5,253.75 542.5,247.5 537.5,242.5 536.25,235 531.25,232.5 525,227.5 520,220 530,218.75 532.5,213.75 530,210 533.75,203.75" fill="#800026" stroke="#444" stroke-opacity="0.5" stroke-width="0.45"/>
<polygon points="542.5,197.5 558.75,192.5 570,195.6 587.5,198.1 595,195.6 600,188.75 606,188.75 606,203.75 597.5,207.5 595,213.75 585,217.5 572.5,215 562.5,212.5 552.5,207.5 550,202.5 542.5,200" fill="#800026" stroke="#444" stroke-opacity="0.5" stroke-width="0.45"/>
<polygon points="528.75,235 536.25,235 537.5,242.5 542.5,247.5 552.5,253.75 562.5,256.25 565,253.75 577.5,250 581.25,253.75 576.7,250.3 580.7,254.3 576.7,261 574,267.7 570,266.3 570,267.5 565,267.5 560,272.5 552.5,282.5 547.5,287.5 546.25,297.5 542.5,305 537.5,297.5 531.25,285 528.75,273.75 523.75,271.25 518.75,267.5 517.5,263.75 522.5,262.5 521.25,253.75 527.5,242.5" fill="#bd0026" stroke="#444" stroke-opacity="0.5" stroke-width="0.45"/>
<polygon points="542.5,247.5 552.5,250 562.5,255 557.5,256.9 543.75,251.25" fill="#800026" stroke="#444" stroke-opacity="0.5" stroke-width="0.45"/>
<polygon points="562.5,253.75 568.75,253.1 569.4,256.25 563.75,256.25" fill="#fd8d3c" stroke="#444" stroke-opacity="0.5" stroke-width="0.45"/>
<polygon points="562.5,258.75 570,260 571.25,267.5 567.5,268.75 565,263.75" fill="#800026" stroke="#444" stroke-opacity="0.5" stroke-width="0.45"/>
<polygon points="547.5,301.25 550,302.5 551.25,308.75 548.75,310" fill="#bd0026" stroke="#444" stroke-opacity="0.5" stroke-width="0.45"/>
<polygon points="576.7,250.3 583.3,253 584.7,262.3 590,270.3 587.3,275.7 586,283.7 588.7,286.3 590,295.7 591.3,301 589,296 586,290 580.7,285 575.3,277 574,267.7 576.7,261 580.7,254.3" fill="#800026" stroke="#444" stroke-opacity="0.5" stroke-width="0.45"/>
<polygon points="592.7,270.3 600.7,266.3 606,269 603.3,277 608.7,283.7 610,289 602,290.3 599.3,281 592.7,277" fill="#9f0026" stroke="#444" stroke-opacity="0.5" stroke-width="0.45"/>
<polygon points="587.3,275.7 592.7,274.3 599.3,281 602,290.3 599.3,294.3 594,293 591.3,301 595.3,309 600.7,314.3 596.7,314.3 591.3,306.3 590,295.7 588.7,286.3" fill="#bd0026" stroke="#444" stroke-opacity="0.5" stroke-width="0.45"/>
<polygon points="595.3,309 600.7,310.3 603.3,319.7 602,323.7 598,319.7 596.7,314.3" fill="#bd0026" stroke="#444" stroke-opacity="0.5" stroke-width="0.45"/>
<polygon points="606,269 612.7,271.7 606,275.7 606,279.7 612.7,286.3 615.3,293 612.7,298.3 606,303.7 604.7,299.7 610,293 610,289 608.7,283.7 603.3,277" fill="#9f0026" stroke="#444" stroke-opacity="0.5" stroke-width="0.45"/>
<polygon points="599.3,291.7 608.7,289 610,293 606,298.3 602,298.3" fill="#fc4e2a" stroke="#444" stroke-opacity="0.5" stroke-width="0.45"/>
<polygon points="611.3,275.7 615.3,274.3 614,278.3" fill="#800026" stroke="#444" stroke-opacity="0.5" stroke-width="0.45"/>
<polygon points="635.6,261 638.75,263 637.5,269 635,267" fill="url(#hatch)" stroke="#c8c8c8" stroke-width="0.45"/>
<polygon points="630,221.7 634.2,216.7 637.9,214.6 639.6,219.6 636.7,222.5 640,225 644.2,230 645.4,234.2 641.7,236.7 639.2,235 637.5,230.8 634.2,227.5 633.3,224.2" fill="#e31a1c" stroke="#444" stroke-opacity="0.5" stroke-width="0.45"/>
<polygon points="658.3,208.3 663.3,210.8 667.5,210.8 669.6,213.3 665.8,215 661.7,217.5 659.2,214.2" fill="#fc4e2a" stroke="#444" stroke-opacity="0.5" stroke-width="0.45"/>
<polygon points="661.7,218.75 660.4,225 660.8,230.8 657.5,233.3 653.3,233.75 650,235.8 648.75,239.2 651.7,240 655.8,237.5 660,237.9 663.3,236.7 667.5,235 670.4,232.5 668.3,227.5 667.9,223.3 665.4,218.75" fill="#fc4e2a" stroke="#444" stroke-opacity="0.5" stroke-width="0.45"/>
<polygon points="648.75,239.2 653.3,240 654.2,245 652.5,245.4 650,242.5" fill="#fc4e2a" stroke="#444" stroke-opacity="0.5" stroke-width="0.45"/>
<polygon points="655.8,238.5 659.2,238.3 658.5,240 656,240" fill="#fc4e2a" stroke="#444" stroke-opacity="0.5" stroke-width="0.45"/>
<polygon points="641.25,185 650,192.5 656.25,197.5 658.75,205 654,200 645,192" fill="#9f0026" stroke="#444" stroke-opacity="0.5" stroke-width="0.45"/>
<polygon points="639.2,278.2 643,279 643.7,283.5 643,288 646.7,290.2 649,292.5 646,291.7 641.5,290.2 638.5,285" fill="#bd0026" stroke="#444" stroke-opacity="0.5" stroke-width="0.45"/>
<polygon points="644.5,294.7 650.5,294 653.5,297 652.7,300 649,299.2 648.2,302.2 646,300 645.2,297" fill="#bd0026" stroke="#444" stroke-opacity="0.5" stroke-width="0.45"/>
<polygon points="646.7,306.7 649.7,305.2 653.5,302.2 655.7,304.5 656.5,309 654.2,312 651.2,310.5 649.7,307.5 646.7,308.2" fill="#bd0026" stroke="#444" stroke-opacity="0.5" stroke-width="0.45"/>
<polygon points="634.4,304.5 639.6,297.7 639.2,299.2 635.1,305.2" fill="#bd0026" stroke="#444" stroke-opacity="0.5" stroke-width="0.45"/>
<polygon points="583.9,313.5 588.6,313.5 592.5,318.2 598,322.1 602.7,326 604.3,330.7 609,335.4 608.2,342.5 605.1,341.7 601.1,337.8 597.2,331.5 593.3,326 589.4,319.7 585.5,315.8" fill="#800026" stroke="#444" stroke-opacity="0.5" stroke-width="0.45"/>
<polygon points="607.4,344.8 611.3,343.2 620.7,344.8 630.1,348.7 627,350.3 615.2,347.9 609.8,346.4" fill="#800026" stroke="#444" stroke-opacity="0.5" stroke-width="0.45"/>
<polygon points="633.75,349 647.5,348 648,350 634,351" fill="#800026" stroke="#444" stroke-opacity="0.5" stroke-width="0.45"/>
<polygon points="650,352 657.5,348.5 651,354" fill="#800026" stroke="#444" stroke-opacity="0.5" stroke-width="0.45"/>
<polygon points="616.2,322.4 622.5,320 627.5,316.2 632.4,310 634.9,308.7 639.9,313.1 636.2,317.5 637.4,323.7 634.9,328.7 631.2,336.2 626.2,337.4 620,334.9 617.5,329.9" fill="#800026" stroke="#444" stroke-opacity="0.5" stroke-width="0.45"/>
<polygon points="617,323.2 622.5,321.8 630,316.2 636.2,316.2 639.9,313.1 634.9,308.7 632.4,310 627.5,316.2 622.5,320" fill="#bd0026" stroke="#444" stroke-opacity="0.5" stroke-width="0.45"/>
<polygon points="639.9,329.9 643.7,324.9 653.6,323.1 649.9,326.2 643.7,328.1 647.4,329.9 644.9,332.4 648.7,339.9 644.9,338.7 642.4,334.9 641.2,341.1" fill="#800026" stroke="#444" stroke-opacity="0.5" stroke-width="0.45"/>
<polygon points="656.1,335.5 666.1,335.5 665,337 657,337.2" fill="#800026" stroke="#444" stroke-opacity="0.5" stroke-width="0.45"/>
<polygon points="660,322.5 661.25,328.75 659,327" fill="#800026" stroke="#444" stroke-opacity="0.5" stroke-width="0.45"/>
<polygon points="667.4,329.9 671.1,328.7 674.8,331.2 673.6,334.3 677.3,336.2 683.6,332.4 689.8,333.7 697.3,337.4 702.3,342.4 704.8,347.4 707.3,351.1 711,354.9 703.5,353.6 697.3,349.9 689.8,351.1 684.8,348.6 682.3,343.6 678.6,339.9 673.6,337.4 669.9,333.7" fill="#800026" stroke="#444" stroke-opacity="0.5" stroke-width="0.45"/>
<polygon points="707.3,342.4 713.5,339.9 716,334.9 714,340 708,343.8" fill="#800026" stroke="#444" stroke-opacity="0.5" stroke-width="0.45"/>
<polygon points="722,341 723.5,341.5 726.5,345 725,345.5" fill="#800026" stroke="#444" stroke-opacity="0.5" stroke-width="0.45"/>
<polygon points="728,346 730,347 732.5,349.5 731,350" fill="#800026" stroke="#444" stroke-opacity="0.5" stroke-width="0.45"/>
<polygon points="733.5,350.5 735.5,351.5 738,355 736.5,355.8" fill="#800026" stroke="#444" stroke-opacity="0.5" stroke-width="0.45"/>
<polygon points="618,418 622,386 640,378 648,370 658,364 668,357 678,360 676,366 685,374 690,368 692,356 698,370 704,384 708,396 706,406 696,418 686,426 678,429 668,424 664,414 654,412 640,414 626,418" fill="#feb24c" stroke="#444" stroke-opacity="0.5" stroke-width="0.45"/>
<polygon points="670,436 678,435 676,440 672,440" fill="#feb24c" stroke="#444" stroke-opacity="0.5" stroke-width="0.45"/>
<polygon points="742.5,418 744.5,421 745,426 749.5,426.5 746,430 740,433 735.5,436.5 737,431 742,428" fill="#fed976" stroke="#444" stroke-opacity="0.5" stroke-width="0.45"/>
<polygon points="732,434.5 733,437 726,442 717,447 711,450 708,448.5 715,444 725,439" fill="#fed976" stroke="#444" stroke-opacity="0.5" stroke-width="0.45"/>
<polygon points="770,372 776,370 775,373 771,374" fill="#800026" stroke="#444" stroke-opacity="0.5" stroke-width="0.45"/>
<polygon points="589,269.5 593.5,269.5 593.5,276 587.5,276.5" fill="#9f0026" stroke="#444" stroke-opacity="0.5" stroke-width="0.45"/>
<polygon points="421.8,212.5 424,207.3 425.5,205 430,207.3 436,206.5 440.5,203.5 442,208.8 445,209.5 450,216.25 445,217.3 437.5,215.9 430,216.6 424,214.8" fill="#fff" stroke="#444" stroke-opacity="0.5" stroke-width="0.45"/>
<polygon points="437,204.5 441,203.5 442,206 438.5,207.2" fill="#fff" stroke="#444" stroke-opacity="0.5" stroke-width="0.45"/>
<polygon points="391,205.5 394,207 400,213.5 405.5,218.5 402,220.5 395.5,214 389.5,208.5" fill="#fff" stroke="#444" stroke-opacity="0.5" stroke-width="0.45"/>
<polygon points="416,219.8 420.5,219.5 421.5,227 416,229 413,223.5" fill="#fff" stroke="#444" stroke-opacity="0.5" stroke-width="0.45"/>
<polygon points="3.5,274 6,273.5 6.5,276.5 4.5,277.5" fill="#fc4e2a" stroke="#444" stroke-opacity="0.5" stroke-width="0.45"/>
<polygon points="0.5,270 2.5,270.5 1.5,271.5" fill="#fc4e2a" stroke="#444" stroke-opacity="0.5" stroke-width="0.45"/>
<polygon points="3.5,272 5.5,272.3 5,273" fill="#fc4e2a" stroke="#444" stroke-opacity="0.5" stroke-width="0.45"/>
<polygon points="740,366 741.5,366.5 743,371 741.5,371.5" fill="url(#hatch)" stroke="#c8c8c8" stroke-width="0.45"/>
<polygon points="737,380 739,380 744,385.5 742,386" fill="url(#hatch)" stroke="#c8c8c8" stroke-width="0.45"/>
<polygon points="436,250 440,257 446,269 450,278 455,284 460,292 463,290 461,282 456,276 451,270 445,260 439.5,253" fill="#fff" stroke="#444" stroke-opacity="0.5" stroke-width="0.45"/>
<polygon points="420,155 426.7,155.8 430.8,156.7 433.3,155 434.5,155.5 432.5,158.3 428.3,160 425.8,158.3 422.5,157.5" fill="#fff" stroke="#444" stroke-opacity="0.5" stroke-width="0.45"/>
<polygon points="406.7,170.8 415.8,170 415,171.7 406.7,172.5" fill="#fff" stroke="#444" stroke-opacity="0.5" stroke-width="0.45"/>
<polygon points="207,160.5 215,158.5 225,160.5 233,163.5 240,165.8 238,167.8 232,166.8 222,165.2 215,166.5 209,165" fill="#fff" stroke="#444" stroke-opacity="0.5" stroke-width="0.45"/>
<polygon points="417.3,199 421,198.5 423.5,203 423,206.5 421.5,207 419,202.5" fill="#9f0026" stroke="#444" stroke-opacity="0.5" stroke-width="0.45"/></g>
</g>
<g id="legend" font-family="Liberation Sans, sans-serif" font-size="13" fill="#333">
<rect x="98.5" y="516.8" width="48" height="11.5" fill="url(#hatch)" stroke="#bbb" stroke-width="0.8"/>
<line x1="122" y1="513.5" x2="122" y2="517" stroke="#999" stroke-width="0.8"/>
<text x="122" y="510" text-anchor="middle">No data</text>
<g stroke="#999" stroke-width="0.6">
<rect x="166" y="516.8" width="58.5" height="11.5" fill="#ffffcc"/>
<rect x="224.5" y="516.8" width="58.5" height="11.5" fill="#ffeda0"/>
<rect x="283" y="516.8" width="58.5" height="11.5" fill="#fed976"/>
<rect x="341.5" y="516.8" width="58.5" height="11.5" fill="#feb24c"/>
<rect x="400" y="516.8" width="58.5" height="11.5" fill="#fd8d3c"/>
<rect x="458.5" y="516.8" width="58.5" height="11.5" fill="#fc4e2a"/>
<rect x="517" y="516.8" width="58.5" height="11.5" fill="#e31a1c"/>
<rect x="575.5" y="516.8" width="58.5" height="11.5" fill="#bd0026"/>
<rect x="634" y="516.8" width="58.5" height="11.5" fill="#9f0026"/>
</g>
<polygon points="692.5,516.8 747.5,516.8 751.5,522.5 747.5,528.3 692.5,528.3" fill="#800026"/>
<g stroke="#999" stroke-width="0.8">
<line x1="166" y1="513.5" x2="166" y2="517"/><line x1="224.5" y1="513.5" x2="224.5" y2="517"/><line x1="283" y1="513.5" x2="283" y2="517"/><line x1="341.5" y1="513.5" x2="341.5" y2="517"/><line x1="400" y1="513.5" x2="400" y2="517"/><line x1="458.5" y1="513.5" x2="458.5" y2="517"/><line x1="517" y1="513.5" x2="517" y2="517"/><line x1="575.5" y1="513.5" x2="575.5" y2="517"/><line x1="634" y1="513.5" x2="634" y2="517"/><line x1="692.5" y1="513.5" x2="692.5" y2="517"/>
</g>
<text x="166" y="510" text-anchor="middle">0%</text>
<text x="224.5" y="510" text-anchor="middle">5%</text>
<text x="283" y="510" text-anchor="middle">10%</text>
<text x="341.5" y="510" text-anchor="middle">15%</text>
<text x="400" y="510" text-anchor="middle">20%</text>
<text x="458.5" y="510" text-anchor="middle">25%</text>
<text x="517" y="510" text-anchor="middle">30%</text>
<text x="575.5" y="510" text-anchor="middle">35%</text>
<text x="634" y="510" text-anchor="middle">40%</text>
<text x="692.5" y="510" text-anchor="middle">45%</text>
</g>
</svg>
<div id="title" class="t">Share of men who smoke or use tobacco, 2022</div>
<div class="t sub" style="top:53.5px">Estimated percentage of men aged 15 years and older who currently use tobacco. This includes all forms of</div>
<div class="t sub" style="top:71.5px">tobacco use, such as smoking, chewing or snuffing, but excludes products that do not contain tobacco, such as</div>
<div class="t sub" style="top:89.5px">e-cigarettes.</div>
<div id="logo"><div style="top:4.5px">Our World</div><div style="top:16.5px">in Data</div></div>
<div class="t foot" style="left:16px;top:549px"><b>Data source:</b> World Health Organization - Global Health Observatory (2024)</div>
<div class="t foot" style="right:19px;top:549px">OurWorldinData.org/smoking | CC BY</div>
<div class="t foot" style="left:16px;top:568.2px"><b>Note:</b> To allow for comparisons between countries and over time, this metric is age-standardized.</div>
</body></html>
